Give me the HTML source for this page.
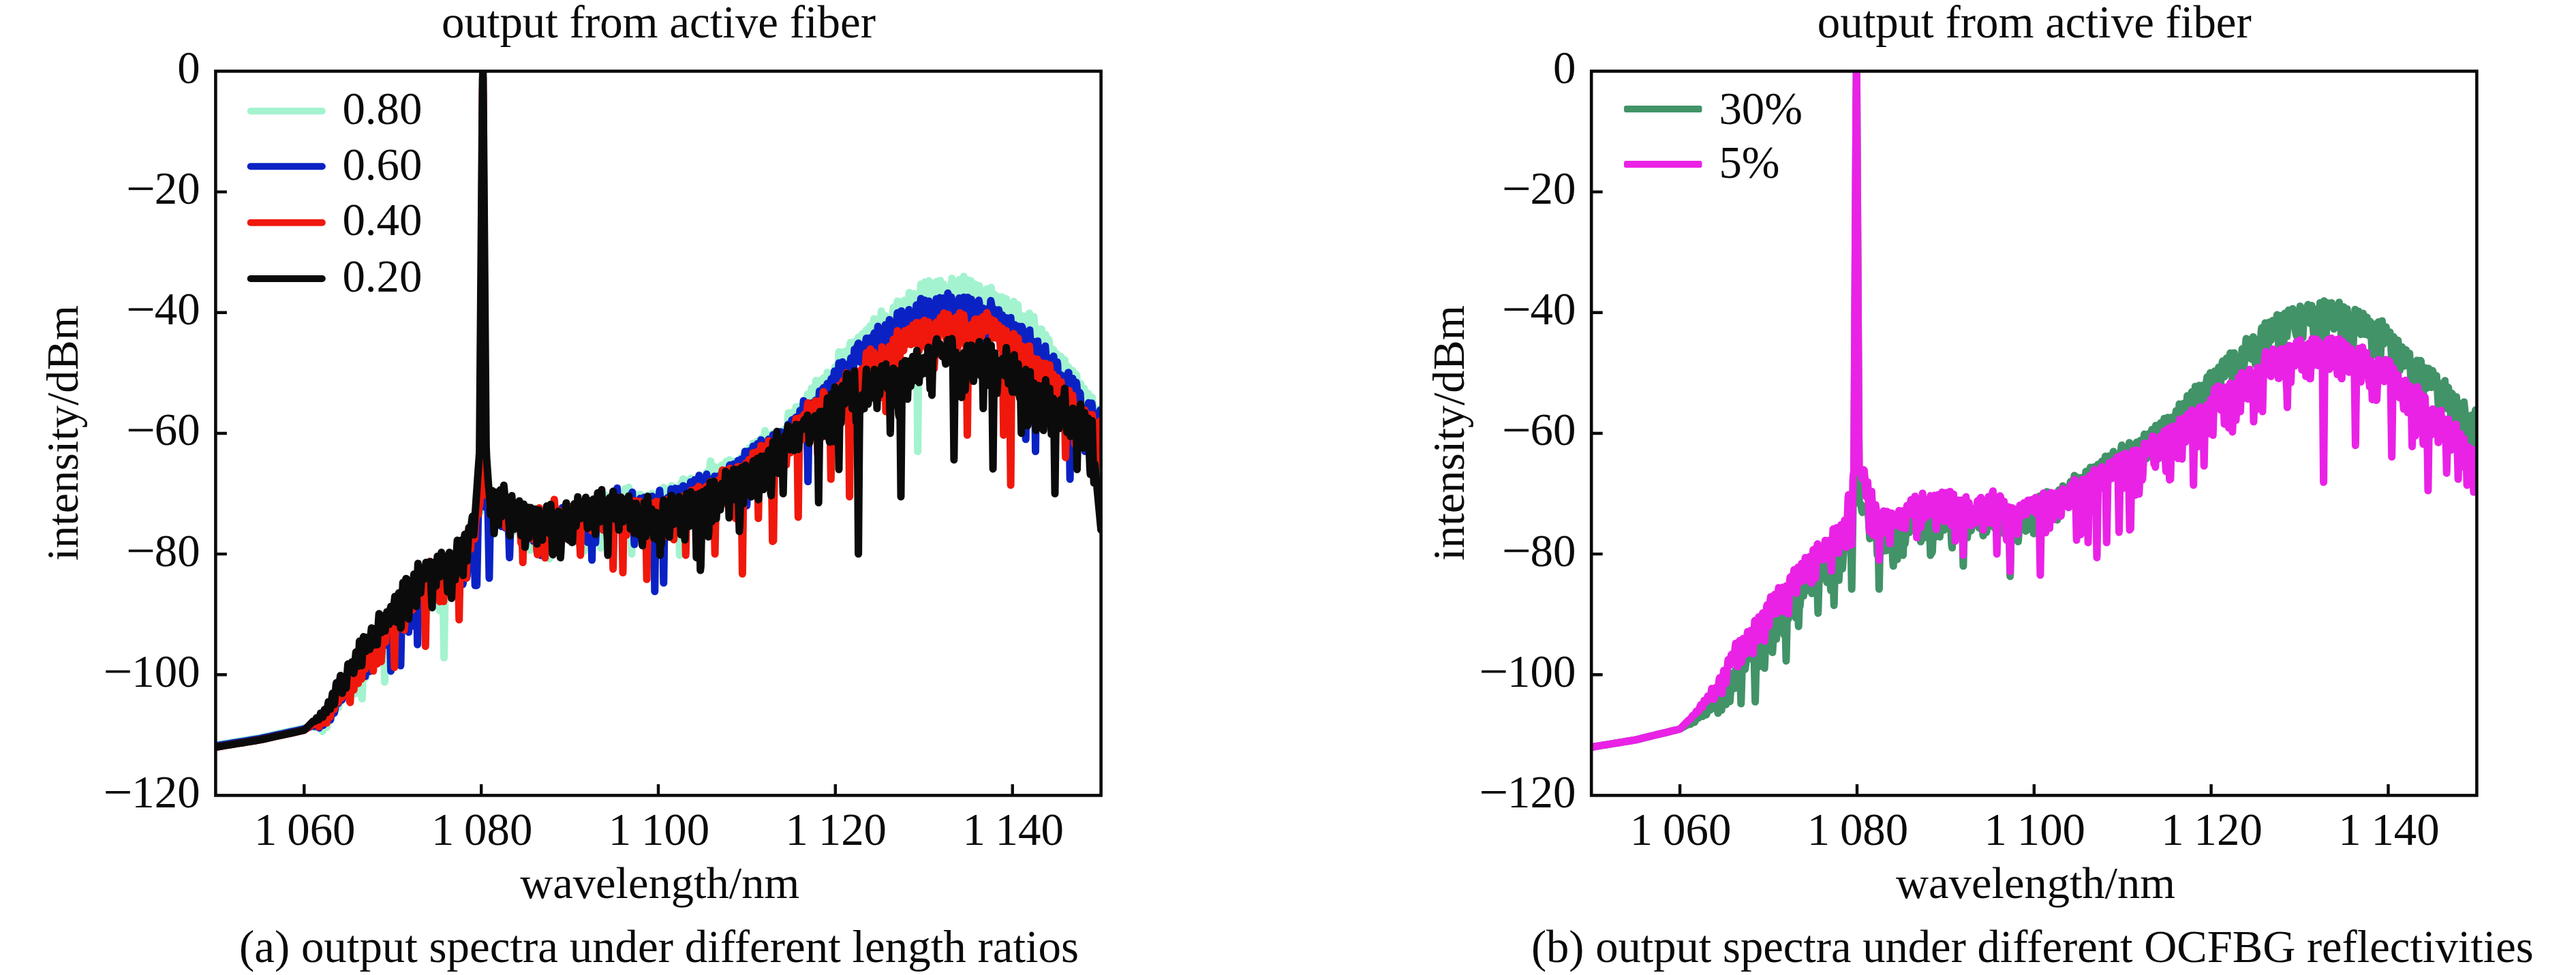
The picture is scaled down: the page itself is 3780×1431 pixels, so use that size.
<!DOCTYPE html>
<html><head><meta charset="utf-8"><title>spectra</title><style>html,body{margin:0;padding:0;background:#fff}svg{display:block}</style></head><body>
<svg width="3780" height="1431" viewBox="0 0 3780 1431" font-family="'Liberation Serif', serif" font-size="66.9" fill="#0a0a0a">
<rect width="3780" height="1431" fill="#fff"/>
<clipPath id="cL"><rect x="316.4" y="104.5" width="1299.2" height="1062.9"/></clipPath>
<g clip-path="url(#cL)" fill="none" stroke-width="11" stroke-linejoin="round" stroke-linecap="round">
<polyline stroke="#a3f3cf" points="316.4,1093.4 322.9,1092.4 329.4,1091.3 335.9,1090.3 342.4,1089.2 348.9,1088.1 355.4,1087.1 361.9,1086.0 368.4,1084.9 374.9,1083.9 381.4,1082.8 387.9,1081.4 394.4,1080.0 400.8,1078.6 407.3,1077.1 413.8,1075.7 420.3,1074.3 426.8,1072.9 433.3,1071.5 439.8,1070.1 446.3,1068.6 452.8,1067.1 458.7,1065.9 459.3,1066.0 461.9,1067.7 465.2,1064.0 465.8,1064.5 467.8,1066.6 468.4,1067.1 470.4,1062.7 471.0,1063.0 473.0,1073.4 473.6,1072.6 474.9,1066.9 475.6,1063.3 476.2,1060.6 479.4,1067.6 480.1,1065.3 482.0,1055.5 482.7,1053.5 485.3,1057.1 485.9,1055.4 487.9,1043.9 488.5,1043.6 490.5,1044.6 491.1,1044.8 491.8,1043.0 493.7,1036.8 494.4,1037.1 495.7,1038.5 496.3,1038.9 497.0,1036.9 497.6,1033.8 498.3,1030.6 499.6,1023.7 500.2,1023.5 500.9,1024.0 501.5,1024.9 502.2,1024.0 504.1,1016.5 504.8,1014.3 505.4,1013.7 506.1,1012.9 506.7,1011.9 507.4,1010.7 508.0,1008.6 508.7,1006.0 509.3,1003.8 510.6,999.9 513.9,1002.1 514.5,1000.4 516.5,990.4 517.1,991.8 517.8,999.4 518.4,1006.9 519.1,1014.2 519.7,1018.6 521.0,999.7 521.7,990.4 522.3,981.8 523.0,983.2 523.6,994.2 524.3,1005.6 524.9,1017.4 526.2,1005.6 526.9,999.6 527.5,993.2 528.2,986.3 528.8,989.4 529.5,1000.9 530.1,1012.1 530.8,1023.1 531.4,1025.6 532.7,988.5 533.4,973.6 534.0,978.4 534.7,983.6 536.0,994.8 536.6,994.6 537.3,986.2 537.9,978.0 538.6,969.9 539.2,963.5 540.5,968.2 541.2,970.1 541.8,971.6 542.5,969.2 543.8,962.9 545.1,956.9 545.7,954.9 547.7,959.7 548.3,957.7 549.0,954.9 550.9,947.3 551.6,950.4 553.5,973.5 554.2,970.7 555.5,952.5 556.1,945.7 556.8,950.7 557.4,955.5 558.1,960.0 558.7,964.1 559.4,966.7 561.3,941.5 561.9,933.4 562.6,928.0 563.2,950.9 564.5,1000.9 565.2,975.9 565.8,961.9 566.5,950.0 567.1,937.7 567.8,927.2 568.4,928.4 569.7,930.2 570.4,930.4 571.0,924.8 571.7,919.6 572.3,914.9 573.0,910.8 573.6,907.7 574.3,915.4 576.2,939.7 576.9,947.6 577.5,939.4 578.2,927.3 578.8,915.5 579.5,920.7 580.1,925.4 580.8,929.7 582.1,937.9 582.7,940.1 583.4,926.9 584.0,913.9 584.7,901.3 585.3,893.8 586.0,903.3 587.3,922.8 587.9,926.7 588.6,920.9 589.2,914.9 589.9,908.6 590.5,901.8 591.2,894.9 591.8,895.3 593.8,898.4 594.4,896.4 596.4,879.9 597.0,874.7 597.7,881.7 598.3,889.4 599.0,897.4 599.6,898.7 600.9,885.4 601.6,879.0 602.2,874.4 604.2,884.7 604.8,887.8 605.5,888.1 608.1,867.1 608.7,868.2 610.0,882.3 610.7,888.5 611.3,881.8 612.0,875.4 612.6,869.2 613.3,863.3 613.9,865.7 614.6,872.0 615.9,884.8 616.5,889.4 617.2,884.3 617.8,878.9 618.5,873.2 619.1,873.0 619.8,879.8 620.4,886.3 621.1,892.5 622.4,904.6 623.0,898.7 623.7,884.8 624.3,871.2 625.0,857.7 625.6,862.2 626.3,869.4 626.9,876.9 627.6,884.6 628.2,885.0 629.5,868.5 630.2,859.8 630.8,850.8 631.5,856.3 632.1,866.0 632.8,875.6 633.4,885.0 634.1,893.1 634.7,880.3 635.4,868.0 636.0,856.1 636.7,844.5 637.3,852.9 638.6,877.7 639.3,887.8 639.9,876.6 641.8,841.6 642.5,849.1 644.4,890.3 645.1,896.3 647.7,845.2 648.3,842.6 649.0,848.2 649.6,853.5 650.3,883.6 651.6,965.4 653.5,842.7 654.2,839.1 654.8,841.2 656.1,844.8 656.8,845.4 658.1,838.2 659.4,830.3 660.0,828.3 660.7,829.3 661.3,830.7 662.0,832.5 662.6,832.2 664.6,824.7 665.2,824.6 665.9,828.0 666.5,831.6 667.2,835.4 667.8,839.5 668.5,839.4 669.8,837.6 670.4,836.3 671.1,837.6 671.7,843.2 672.4,848.1 673.0,851.4 673.7,854.4 674.3,846.0 675.0,834.5 675.6,823.4 676.3,818.1 676.9,823.5 677.6,829.3 679.5,848.0 680.2,842.8 680.8,832.3 682.1,811.0 682.8,813.2 683.4,821.0 684.1,829.3 684.7,838.1 685.4,835.3 686.0,829.2 686.7,822.8 687.3,815.9 688.0,808.4 688.6,803.9 689.3,810.3 689.9,816.1 690.6,821.8 691.2,815.0 691.9,805.1 692.5,795.6 693.2,786.4 693.8,777.4 694.5,783.4 695.8,806.9 696.4,812.3 697.1,794.8 697.7,780.4 698.4,768.2 699.0,758.2 699.7,753.6 700.3,755.6 701.0,755.5 701.6,753.5 702.3,748.8 702.9,746.2 703.6,746.4 704.2,746.8 706.2,749.0 706.8,749.5 707.5,511.9 708.1,235.1 708.8,179.8 710.1,733.4 710.7,744.2 714.0,736.6 714.6,737.7 715.3,739.4 715.9,738.7 716.6,736.4 717.2,742.5 717.9,751.3 718.5,762.8 719.2,776.9 719.8,774.5 720.5,767.3 721.1,756.9 721.8,744.8 722.4,734.2 723.7,762.5 724.3,776.4 725.0,783.8 725.6,774.6 727.6,747.7 728.2,744.6 730.8,755.5 731.5,753.0 732.1,749.5 732.8,746.3 733.4,742.8 734.1,742.5 734.7,747.5 735.4,752.7 736.0,758.3 736.7,761.2 738.0,755.1 739.3,749.7 739.9,749.7 740.6,754.3 741.2,758.6 742.5,766.8 743.2,765.9 743.8,763.1 744.5,759.9 745.1,756.5 745.8,754.6 746.4,760.3 747.1,765.5 747.7,771.1 748.4,771.9 751.0,756.3 751.6,756.2 753.6,774.3 754.2,779.6 756.2,753.7 756.8,747.4 757.5,755.7 758.1,764.3 758.8,773.2 759.4,773.3 760.1,768.8 760.7,764.6 762.0,756.9 762.7,756.7 763.3,763.1 764.0,769.1 764.6,774.7 765.3,778.5 765.9,774.4 766.6,769.8 767.9,759.7 768.5,760.1 769.2,767.6 769.8,775.3 770.5,783.1 771.1,780.3 773.7,759.7 774.4,755.8 775.7,763.0 776.3,770.1 777.6,807.8 778.9,770.1 779.6,755.7 780.2,758.2 781.5,781.3 782.2,789.4 784.1,770.8 784.8,764.2 785.4,762.7 786.1,767.8 786.7,772.7 788.0,781.9 788.7,778.4 790.0,764.0 790.6,757.1 792.6,770.3 793.2,774.9 793.9,776.2 796.5,756.4 797.1,757.0 799.7,779.8 800.4,775.1 802.3,759.8 803.0,758.9 804.2,780.6 804.9,791.8 805.5,799.4 806.2,820.2 807.5,778.5 808.1,766.3 808.8,767.2 809.4,780.3 810.1,792.8 810.7,801.0 811.4,791.7 812.0,781.7 813.3,761.0 814.0,753.7 814.6,757.5 815.3,761.8 815.9,766.5 816.6,771.5 817.2,770.4 818.5,758.5 819.2,756.5 819.8,762.0 820.5,767.1 821.1,771.8 822.4,780.3 823.1,775.8 823.7,767.9 824.4,760.4 825.0,753.5 825.7,750.4 826.3,758.3 827.6,774.5 828.3,778.5 828.9,772.9 829.6,766.8 830.2,759.9 830.9,752.4 831.5,748.5 832.2,756.2 832.8,764.2 833.5,772.5 834.1,776.8 835.4,760.9 836.1,752.8 836.7,749.5 837.4,752.6 838.7,758.5 839.3,761.8 840.0,762.7 840.6,756.7 841.3,751.0 841.9,745.4 842.6,744.5 843.2,751.1 843.9,757.1 844.5,762.6 845.2,767.5 845.8,764.3 847.1,750.4 847.8,743.7 848.4,737.3 849.1,741.0 849.7,748.7 850.4,756.9 851.0,765.6 851.7,761.7 852.3,755.8 853.0,750.3 853.6,745.1 854.3,746.5 855.6,778.0 856.2,793.6 856.9,808.8 857.5,796.1 858.2,777.8 858.8,758.7 859.5,753.7 860.1,761.5 860.8,768.7 861.4,775.7 862.1,775.5 862.7,765.1 863.4,755.2 864.0,745.7 864.7,736.7 865.3,739.4 866.0,743.0 867.9,754.4 868.6,752.4 869.2,749.0 869.9,745.3 871.2,737.7 871.8,739.4 872.5,745.2 873.1,751.4 873.8,756.9 874.4,753.5 875.7,747.2 876.4,744.0 877.0,740.3 877.7,747.0 878.3,755.1 879.0,762.8 879.6,764.3 880.3,761.0 880.9,781.8 881.6,804.2 882.9,759.4 883.5,754.6 884.2,755.0 884.8,755.1 885.4,751.7 886.1,745.6 887.4,732.9 888.0,727.1 888.7,727.0 889.3,735.5 890.0,744.8 890.6,754.7 891.3,764.9 891.9,759.0 892.6,748.4 893.2,737.4 893.9,729.2 894.5,740.1 895.2,750.7 895.8,761.2 896.5,771.6 897.1,776.0 897.8,780.8 899.7,796.5 900.4,787.8 901.7,766.8 902.3,756.8 903.0,751.4 903.6,745.8 904.3,739.7 904.9,733.1 905.6,735.9 906.2,739.0 907.5,744.6 908.2,747.6 908.8,742.5 909.5,735.1 910.1,727.9 910.8,727.5 912.1,738.3 912.7,743.4 914.0,753.4 914.7,745.9 915.3,737.2 916.0,728.9 916.6,721.1 917.3,717.3 918.6,739.8 919.2,746.0 919.9,740.3 920.5,734.4 921.2,728.2 922.5,715.3 923.1,717.0 923.8,722.5 924.4,728.4 925.1,728.0 925.7,750.4 927.0,813.1 928.3,750.4 929.0,737.3 929.6,748.0 930.3,758.5 930.9,762.7 931.6,756.3 932.2,749.3 932.9,741.8 934.2,726.1 934.8,730.6 935.5,739.9 936.1,749.4 936.8,744.0 937.4,739.0 938.1,734.4 939.4,725.8 940.0,730.6 942.0,748.4 942.6,748.9 943.3,744.0 943.9,738.9 944.6,733.7 945.2,738.7 945.9,751.6 947.2,776.8 947.8,789.0 948.5,800.8 949.1,784.2 950.4,733.0 951.1,727.1 951.7,731.2 953.0,740.2 953.7,744.9 954.3,748.5 955.0,740.5 955.6,732.9 956.3,725.6 956.9,724.2 958.2,746.3 959.5,768.0 960.2,766.6 960.8,757.9 961.5,749.1 962.1,740.0 962.8,733.7 963.4,742.7 965.4,768.3 966.0,759.8 967.3,738.5 967.9,727.9 968.6,722.1 969.2,729.2 971.2,751.0 971.8,743.2 972.5,729.9 973.1,716.8 973.8,715.6 974.4,721.5 975.1,727.7 975.7,734.2 976.4,737.3 978.3,723.9 979.0,719.1 979.6,718.0 980.3,726.6 981.6,742.9 982.2,743.4 982.9,736.3 983.5,729.5 984.8,716.4 985.5,713.1 986.8,726.1 987.4,732.5 988.1,738.6 988.7,741.7 990.7,719.4 991.3,720.6 993.3,743.1 993.9,738.4 994.6,730.1 995.2,721.2 995.9,743.3 997.2,814.9 998.5,743.3 999.1,710.2 999.8,710.6 1000.4,708.3 1001.1,706.5 1002.4,703.0 1003.0,706.6 1003.7,714.1 1004.3,721.1 1005.0,727.8 1005.6,733.4 1006.3,725.7 1006.9,718.3 1007.6,711.5 1008.2,705.1 1008.9,709.3 1010.2,724.7 1010.8,732.1 1011.5,728.2 1012.1,722.1 1012.8,715.6 1014.1,701.9 1014.7,706.7 1015.4,715.8 1016.0,725.1 1016.7,734.6 1017.3,727.9 1019.3,704.7 1019.9,704.1 1020.6,721.8 1021.2,739.4 1021.9,754.8 1023.8,726.0 1024.5,716.1 1025.1,706.0 1025.8,707.8 1027.1,716.3 1027.7,719.3 1029.0,709.7 1029.7,705.1 1030.3,700.7 1031.0,702.7 1031.6,710.8 1032.3,719.3 1032.9,728.1 1033.6,737.3 1034.2,729.6 1034.9,720.9 1035.5,711.7 1036.2,702.1 1036.8,693.1 1037.5,700.3 1038.8,713.6 1039.4,711.9 1040.1,703.6 1040.7,695.9 1041.4,688.7 1042.0,682.2 1042.7,676.7 1043.3,683.6 1044.6,698.2 1045.3,703.2 1045.9,698.6 1047.2,688.9 1047.8,684.8 1049.1,692.2 1049.8,695.7 1050.4,698.9 1051.1,701.8 1051.7,701.5 1052.4,696.7 1053.7,686.5 1054.3,687.9 1055.0,695.6 1055.6,703.6 1056.3,711.9 1056.9,708.3 1057.6,699.7 1058.9,682.8 1059.5,685.9 1060.8,703.8 1061.5,712.5 1062.1,721.0 1062.8,718.4 1063.4,709.0 1064.1,699.1 1064.7,688.9 1065.4,678.3 1066.0,676.9 1066.7,679.1 1068.0,683.1 1068.6,680.8 1069.3,677.8 1069.9,675.9 1070.6,674.9 1071.2,680.5 1071.9,688.6 1073.2,705.2 1073.8,703.7 1074.5,697.3 1075.1,690.5 1075.8,683.4 1076.4,677.1 1077.1,682.6 1078.4,693.4 1079.0,699.0 1079.7,704.9 1080.3,700.6 1081.0,691.5 1081.6,682.1 1082.3,677.8 1082.9,681.6 1084.9,691.9 1085.5,695.5 1086.2,692.8 1086.8,685.2 1087.5,677.8 1088.1,670.6 1088.8,674.3 1089.4,685.3 1090.1,696.0 1090.7,706.3 1091.4,700.0 1092.0,688.4 1092.7,676.2 1093.3,663.8 1094.0,665.1 1094.6,671.1 1095.3,677.4 1095.9,684.1 1096.6,691.1 1097.2,685.4 1097.9,677.9 1098.5,670.9 1099.8,657.3 1100.5,662.0 1101.1,673.8 1101.8,685.2 1102.4,683.8 1103.1,675.8 1103.7,667.4 1104.4,658.6 1105.0,650.4 1105.7,659.1 1106.3,668.0 1107.0,677.3 1107.6,687.1 1108.3,679.7 1108.9,671.7 1109.6,664.0 1110.9,649.1 1111.5,647.5 1112.2,654.5 1114.1,674.3 1114.8,671.3 1116.7,643.5 1117.4,646.4 1118.7,655.0 1119.3,659.5 1120.0,653.7 1120.6,647.7 1121.3,642.1 1121.9,636.9 1122.6,632.2 1123.2,634.4 1123.9,647.2 1125.2,673.2 1125.8,673.5 1126.5,666.7 1127.1,659.4 1127.8,651.5 1128.4,642.8 1129.0,644.2 1130.3,660.7 1131.0,665.2 1131.6,656.6 1132.3,648.3 1132.9,640.4 1133.6,636.5 1134.9,654.8 1135.5,663.6 1136.2,672.1 1136.8,664.9 1138.8,640.4 1139.4,635.7 1140.1,643.3 1140.7,651.3 1142.0,667.8 1142.7,667.8 1144.0,651.5 1144.6,643.5 1145.3,635.7 1145.9,637.8 1147.9,670.5 1148.5,667.2 1149.2,656.3 1149.8,644.8 1150.5,632.8 1151.1,630.2 1151.8,633.7 1153.7,643.7 1154.4,645.8 1155.0,634.5 1155.7,623.3 1156.3,612.5 1157.0,605.9 1157.6,610.4 1159.6,625.0 1160.2,622.6 1162.8,605.5 1163.5,612.5 1164.1,619.1 1165.4,632.2 1166.1,623.4 1166.7,613.3 1167.4,603.5 1168.0,597.2 1171.3,614.3 1171.9,611.7 1172.6,605.2 1173.2,598.0 1173.9,596.2 1175.2,600.2 1175.8,602.4 1176.5,603.7 1177.1,600.3 1177.8,597.3 1178.4,594.4 1179.1,591.7 1179.7,589.3 1180.4,599.3 1181.7,621.1 1182.3,631.8 1183.0,625.3 1184.9,578.5 1185.6,581.7 1186.2,587.3 1187.5,597.7 1188.2,603.1 1188.8,597.6 1189.5,586.4 1190.1,575.7 1190.8,569.7 1192.7,581.7 1193.4,585.4 1194.0,586.8 1194.7,582.1 1195.3,576.7 1196.0,570.8 1197.3,558.4 1197.9,561.2 1198.6,564.5 1199.2,568.5 1199.9,573.3 1200.5,571.2 1201.2,566.7 1201.8,562.7 1202.5,558.8 1203.1,563.2 1203.8,569.0 1204.4,574.2 1205.1,578.6 1205.7,581.4 1206.4,575.2 1207.0,568.6 1207.7,561.7 1208.3,554.6 1209.0,566.0 1209.6,579.5 1210.2,593.5 1210.9,600.9 1211.5,589.7 1214.1,546.4 1214.8,553.7 1215.4,566.4 1216.7,591.3 1217.4,584.1 1218.7,560.1 1219.3,548.4 1220.0,548.0 1220.6,562.4 1221.9,592.0 1222.6,606.6 1223.2,606.5 1223.9,584.6 1224.5,562.2 1225.2,539.1 1225.8,541.6 1227.8,582.5 1228.4,575.5 1229.7,544.3 1230.4,529.1 1231.0,516.6 1231.7,519.7 1233.0,526.5 1233.6,530.2 1234.3,530.1 1234.9,526.2 1235.6,522.7 1236.2,519.6 1236.9,516.7 1237.5,523.5 1238.2,538.0 1238.8,552.1 1239.5,565.8 1240.1,573.0 1240.8,555.4 1242.1,519.8 1242.7,514.6 1244.0,522.5 1245.3,530.7 1246.0,521.8 1246.6,513.3 1247.3,505.1 1247.9,502.9 1249.9,523.8 1250.5,530.6 1251.2,537.1 1251.8,529.7 1253.8,504.5 1254.4,501.0 1255.1,511.3 1255.7,521.9 1256.4,533.0 1257.0,526.8 1257.7,519.3 1258.3,511.5 1259.0,503.3 1259.6,495.0 1260.3,501.4 1261.6,523.6 1262.2,530.2 1264.8,498.4 1265.5,490.2 1266.1,489.8 1267.4,499.2 1268.1,504.1 1268.7,504.8 1269.4,499.1 1270.0,493.8 1271.3,484.1 1272.0,490.8 1272.6,503.9 1273.3,516.6 1273.9,520.4 1274.6,509.8 1275.2,498.6 1275.9,487.1 1276.5,478.6 1279.1,502.2 1279.8,506.8 1280.4,494.7 1281.1,482.9 1281.7,471.6 1282.4,468.0 1283.0,470.3 1283.7,473.0 1285.0,478.9 1285.6,481.7 1286.3,478.6 1286.9,473.8 1287.6,468.7 1288.2,468.7 1288.9,473.5 1289.5,477.9 1290.2,482.0 1290.8,483.3 1291.4,476.0 1292.1,469.0 1292.7,462.5 1293.4,456.6 1294.0,462.5 1294.7,471.3 1295.3,480.4 1296.0,489.7 1296.6,499.2 1297.3,498.7 1298.6,472.4 1299.2,463.7 1301.8,500.7 1302.5,507.2 1303.1,497.2 1303.8,486.9 1304.4,476.3 1305.1,468.2 1305.7,475.4 1306.4,482.3 1308.3,502.1 1309.0,491.6 1310.3,456.2 1310.9,451.0 1311.6,454.7 1312.2,458.6 1312.9,462.8 1313.5,467.3 1314.2,462.4 1314.8,457.1 1316.8,442.1 1317.4,443.2 1319.4,463.3 1320.0,462.5 1321.3,449.5 1322.0,442.7 1322.6,448.3 1323.3,455.4 1323.9,462.3 1324.6,468.8 1325.2,474.9 1325.9,480.8 1326.5,468.1 1327.2,454.3 1327.8,440.7 1328.5,440.6 1329.1,448.7 1329.8,457.1 1330.4,465.6 1331.1,471.8 1332.4,453.6 1333.7,435.9 1334.3,429.6 1336.3,449.0 1336.9,453.0 1337.6,447.8 1339.5,432.8 1340.2,431.0 1340.8,440.9 1341.5,450.6 1342.1,459.9 1342.8,462.5 1344.1,442.0 1344.7,432.7 1346.7,662.5 1348.0,509.3 1348.6,451.1 1349.3,442.8 1351.2,417.1 1351.9,420.1 1352.5,430.8 1353.2,441.9 1353.8,449.7 1354.5,441.5 1355.1,433.7 1356.4,418.7 1357.1,413.9 1357.7,422.5 1358.4,430.8 1359.0,438.8 1359.7,446.5 1360.3,440.9 1362.3,417.0 1362.9,412.3 1363.6,416.7 1364.2,421.4 1364.9,426.5 1365.5,427.7 1367.5,415.7 1368.1,415.6 1369.4,436.3 1370.7,456.5 1371.4,464.2 1373.9,415.8 1374.6,413.1 1376.5,449.5 1377.2,446.3 1379.1,412.0 1379.8,411.9 1380.4,414.2 1382.4,422.6 1383.0,423.9 1385.0,417.0 1385.6,419.9 1388.2,469.7 1388.9,462.9 1390.2,430.8 1390.8,422.2 1391.5,430.7 1392.1,439.1 1392.8,447.2 1393.4,455.0 1394.1,462.6 1394.7,454.2 1395.4,438.9 1396.0,423.4 1396.7,408.5 1397.3,415.9 1398.0,423.8 1398.6,432.3 1399.3,441.2 1399.9,450.5 1400.6,443.8 1401.2,430.8 1401.9,418.1 1402.5,414.8 1403.2,423.4 1403.8,431.6 1404.5,439.5 1405.1,440.3 1405.8,432.9 1407.7,410.4 1408.4,412.2 1409.0,422.6 1411.0,452.8 1411.6,453.5 1412.3,440.8 1412.9,428.6 1413.6,416.8 1414.2,405.7 1414.9,413.0 1416.8,435.7 1417.5,437.0 1418.1,428.1 1418.8,418.8 1419.4,410.7 1420.1,416.9 1420.7,422.6 1422.0,433.5 1422.7,438.7 1423.3,429.3 1424.0,420.4 1424.6,411.9 1425.3,413.5 1425.9,423.5 1427.9,454.2 1428.5,447.1 1429.2,437.5 1429.8,427.4 1430.5,416.9 1431.1,420.4 1432.4,434.6 1433.1,442.0 1433.7,449.5 1434.4,451.3 1435.7,435.1 1437.0,419.4 1437.6,421.7 1438.3,433.8 1438.9,445.7 1439.6,457.5 1440.2,457.0 1441.5,440.9 1442.2,433.0 1442.8,427.8 1445.4,441.9 1446.1,442.7 1446.7,436.7 1447.4,430.6 1448.0,424.3 1448.7,427.0 1449.3,430.5 1450.0,433.9 1450.6,437.1 1451.3,439.2 1451.9,434.6 1452.6,430.2 1453.2,426.1 1453.8,422.2 1454.5,421.9 1455.1,431.4 1455.8,441.3 1456.4,451.3 1457.1,448.3 1458.4,440.8 1459.0,436.7 1459.7,432.4 1460.3,442.6 1461.0,460.7 1461.6,478.7 1462.3,486.2 1464.9,437.5 1465.5,435.7 1466.2,447.9 1466.8,460.5 1467.5,473.2 1468.1,477.8 1468.8,467.2 1470.7,436.1 1471.4,437.4 1473.3,472.2 1474.0,472.5 1474.6,462.3 1475.9,441.4 1476.6,438.6 1477.2,448.9 1477.9,459.5 1479.2,481.2 1479.8,485.9 1480.5,476.2 1481.1,466.2 1481.8,455.7 1482.4,444.7 1483.1,448.9 1485.0,461.0 1485.7,465.4 1486.3,457.6 1487.6,442.4 1488.3,446.8 1490.2,466.0 1490.9,472.7 1491.5,473.8 1492.2,464.6 1492.8,455.7 1493.5,447.2 1494.8,463.1 1495.4,470.9 1496.1,478.4 1496.7,485.5 1497.4,481.3 1498.7,467.7 1499.3,463.5 1501.9,478.9 1502.6,482.3 1503.2,482.9 1503.9,477.0 1504.5,470.8 1505.2,464.4 1505.8,463.6 1507.1,469.1 1507.8,472.2 1508.4,473.4 1509.1,468.7 1509.7,464.2 1510.4,459.8 1511.0,464.5 1514.3,523.2 1514.9,508.4 1516.2,472.8 1516.9,464.8 1517.5,470.6 1518.2,476.9 1519.5,490.2 1520.1,491.2 1521.4,487.4 1522.1,485.3 1522.7,483.1 1523.4,490.1 1524.0,498.8 1524.7,507.1 1525.3,514.9 1526.0,517.0 1527.3,494.1 1527.9,483.1 1528.6,483.6 1529.2,492.1 1529.9,500.9 1530.5,510.2 1531.2,509.8 1532.5,503.2 1533.1,499.6 1533.8,495.8 1534.4,491.5 1535.0,499.4 1536.3,523.6 1537.0,522.6 1537.6,514.2 1538.3,506.2 1538.9,498.4 1539.6,500.5 1540.2,509.1 1541.5,526.8 1542.2,535.5 1542.8,541.1 1543.5,534.7 1544.1,527.7 1545.4,512.8 1546.1,513.2 1546.7,528.8 1547.4,544.9 1548.0,553.1 1548.7,544.2 1549.3,535.8 1550.0,527.7 1550.6,519.3 1551.3,524.7 1551.9,529.2 1552.6,532.9 1553.2,535.9 1553.9,538.5 1554.5,537.2 1555.2,532.2 1555.8,527.7 1556.5,523.9 1557.1,523.4 1559.1,546.6 1559.7,549.2 1560.4,544.8 1561.0,539.5 1562.3,528.3 1563.0,537.9 1563.6,547.8 1564.9,568.1 1565.6,578.5 1566.2,569.8 1567.5,538.3 1568.2,544.6 1568.8,563.2 1570.8,618.1 1571.4,605.9 1572.7,572.1 1573.4,555.0 1574.0,543.7 1576.6,572.5 1577.3,578.0 1577.9,568.3 1578.6,558.8 1579.2,549.5 1579.9,550.8 1581.8,583.7 1582.5,586.1 1583.1,582.2 1583.8,577.8 1584.4,573.0 1585.7,563.1 1586.4,572.3 1588.3,602.2 1589.0,598.4 1590.3,577.0 1590.9,570.2 1591.6,575.1 1592.9,584.2 1594.2,592.7 1594.8,589.9 1595.5,585.5 1596.1,581.3 1596.8,577.4 1597.4,581.0 1598.1,589.6 1598.7,597.9 1599.4,606.0 1600.0,605.3 1600.7,599.5 1601.3,593.9 1602.0,588.5 1602.6,583.3 1603.3,590.3 1603.9,599.4 1604.6,608.8 1605.2,618.5 1605.9,619.7 1607.2,610.5 1607.8,605.4 1608.5,599.9 1609.1,604.4 1609.8,613.4 1610.4,621.9 1611.1,630.2 1611.7,638.1 1613.0,609.2 1613.7,602.1 1615.6,768.8"/>
<polyline stroke="#0a22c4" points="316.4,1094.8 322.9,1093.7 329.4,1092.6 335.9,1091.6 342.4,1090.5 348.9,1089.5 355.4,1088.4 361.9,1087.3 368.4,1086.3 374.9,1085.2 381.4,1084.1 387.9,1082.7 394.4,1081.3 400.8,1079.9 407.3,1078.5 413.8,1077.1 420.3,1075.6 426.8,1074.2 433.3,1072.8 439.8,1071.4 446.3,1070.0 452.8,1067.5 459.3,1065.1 460.0,1065.1 461.9,1066.1 462.6,1065.9 464.5,1063.7 465.2,1063.5 468.4,1068.3 469.7,1061.4 470.4,1059.0 473.6,1064.2 474.3,1064.4 474.9,1062.4 476.2,1056.8 476.9,1056.4 479.4,1060.6 480.1,1058.8 482.0,1051.7 482.7,1052.0 483.3,1054.2 484.0,1056.1 484.6,1056.7 487.9,1038.1 488.5,1039.9 489.8,1044.7 490.5,1046.6 491.8,1039.4 492.4,1035.3 493.1,1031.0 493.7,1030.5 496.3,1032.3 497.0,1030.0 498.9,1019.4 499.6,1016.2 500.9,1023.9 501.5,1027.5 502.2,1026.7 503.5,1016.9 504.1,1012.3 504.8,1008.2 505.4,1005.3 506.1,1009.4 507.4,1017.7 508.0,1020.7 508.7,1016.3 509.3,1011.7 510.0,1006.6 510.6,1001.0 511.3,996.0 511.9,996.6 512.6,997.5 513.2,998.7 513.9,1000.2 514.5,997.2 515.8,989.8 516.5,985.9 517.1,987.3 518.4,995.5 519.1,1000.0 519.7,1004.8 520.4,1000.7 521.0,994.4 521.7,988.5 522.3,983.0 523.0,984.9 523.6,986.5 524.3,987.5 524.9,986.8 525.6,984.1 527.5,975.3 528.2,973.0 528.8,977.3 529.5,981.9 530.8,991.7 531.4,994.1 532.1,986.5 532.7,978.6 533.4,970.4 534.0,969.9 534.7,977.1 535.3,984.6 536.0,992.6 536.6,987.0 537.3,981.8 539.2,967.1 539.9,966.5 540.5,973.5 541.2,979.7 541.8,985.1 542.5,985.4 543.1,976.1 544.4,957.1 545.1,948.0 545.7,948.6 546.4,954.0 547.0,960.2 547.7,967.1 548.3,968.5 549.6,959.8 550.3,955.1 550.9,950.0 551.6,951.1 552.2,956.1 553.5,965.3 556.1,940.6 556.8,941.2 557.4,949.4 558.1,957.4 558.7,965.0 559.4,963.1 560.0,955.2 561.9,930.4 562.6,922.6 563.2,927.5 563.9,932.9 564.5,938.8 565.2,945.2 565.8,946.8 566.5,938.3 567.1,930.2 568.4,914.7 569.1,921.8 569.7,928.6 570.4,934.9 571.0,940.5 571.7,933.6 572.3,935.3 573.6,984.9 574.9,935.3 575.6,920.3 576.2,924.5 576.9,929.0 577.5,921.4 578.8,903.7 579.5,903.9 580.1,908.5 580.8,912.6 581.4,916.5 582.1,920.1 582.7,918.1 584.0,901.6 584.7,893.7 585.3,894.0 586.0,898.3 586.6,918.3 587.9,977.0 589.2,918.3 589.9,901.7 590.5,896.0 591.2,890.5 591.8,897.1 593.1,917.4 593.8,921.2 594.4,914.9 595.1,908.0 595.7,900.3 596.4,892.0 597.0,888.1 597.7,899.5 599.0,921.8 599.6,927.8 600.3,912.1 600.9,896.8 601.6,882.3 602.2,871.5 602.9,885.3 604.2,913.2 604.8,918.9 606.8,885.2 607.4,873.8 608.1,875.6 608.7,884.0 609.4,892.2 610.0,900.2 610.7,906.2 611.3,894.2 612.0,917.4 612.6,946.0 613.9,888.9 614.6,869.2 615.2,873.9 615.9,878.9 616.5,884.3 617.2,880.7 617.8,872.9 618.5,864.9 619.1,856.6 619.8,860.3 622.4,884.2 623.0,881.8 625.0,854.8 625.6,847.7 627.6,874.5 628.2,882.9 630.2,851.1 630.8,844.0 632.1,852.6 632.8,857.1 633.4,861.8 634.1,865.9 634.7,859.0 636.7,839.3 637.3,842.1 638.6,856.9 639.3,864.0 639.9,864.7 640.6,856.5 641.8,840.0 642.5,840.8 644.4,868.1 645.1,873.9 645.7,862.4 646.4,851.3 647.0,840.4 647.7,831.9 650.9,856.8 652.9,842.0 653.5,836.8 654.2,833.5 654.8,837.4 655.5,840.6 656.1,843.2 656.8,845.3 657.4,840.3 658.1,833.4 658.7,826.9 659.4,824.5 660.0,836.1 660.7,848.3 661.3,861.1 662.0,874.6 662.6,867.5 663.3,854.3 663.9,840.6 664.6,826.5 665.2,824.6 667.2,848.1 667.8,848.4 668.5,844.0 671.1,827.5 671.7,836.9 672.4,847.4 673.0,856.8 673.7,866.0 674.3,871.2 676.3,820.5 676.9,820.7 678.9,857.7 679.5,856.1 681.5,825.3 682.1,815.4 682.8,817.0 684.7,848.0 685.4,844.7 686.0,833.3 686.7,821.4 687.3,809.0 688.0,796.3 688.6,793.8 690.6,791.8 691.2,789.0 693.2,775.3 693.8,771.5 695.1,783.5 695.8,795.0 697.1,859.2 698.4,795.0 699.0,826.0 699.7,859.2 701.6,759.8 702.3,749.6 702.9,747.3 704.2,744.0 704.9,742.8 705.5,742.0 706.2,667.0 708.1,168.7 708.8,135.5 710.7,633.7 711.4,744.2 712.0,743.9 712.7,743.2 713.3,741.9 714.0,740.1 714.6,739.6 715.3,739.2 715.9,738.7 717.9,848.5 719.2,775.3 719.8,750.8 720.5,746.2 721.1,740.1 721.8,733.1 722.4,726.6 723.0,731.6 723.7,740.2 724.3,749.1 725.0,750.6 725.6,747.5 726.3,744.2 726.9,740.5 727.6,738.1 728.2,744.3 728.9,750.0 730.2,761.0 730.8,757.3 731.5,751.4 732.1,745.8 732.8,741.4 733.4,739.7 734.1,747.7 736.0,772.8 736.7,771.6 737.3,767.4 738.0,762.8 738.6,757.8 739.3,752.3 739.9,755.8 741.2,768.3 741.9,774.9 742.5,772.6 744.5,758.6 745.1,755.4 745.8,762.5 746.4,777.4 747.7,818.4 749.0,777.4 749.7,769.5 750.3,764.0 751.0,759.1 753.6,766.9 754.2,767.3 754.9,761.7 755.5,756.6 756.2,751.8 756.8,748.8 757.5,754.6 758.1,760.2 758.8,765.3 759.4,769.8 760.1,769.4 762.0,749.3 762.7,751.8 763.3,758.9 764.0,766.5 764.6,774.6 765.3,779.7 765.9,773.3 766.6,766.7 767.2,759.8 767.9,752.6 768.5,758.7 769.2,765.6 769.8,771.9 770.5,778.1 771.1,779.9 771.8,772.6 772.4,765.5 773.1,758.7 773.7,752.5 774.4,758.9 775.0,765.7 775.7,772.8 776.3,778.3 777.0,775.2 777.6,771.8 778.3,768.2 778.9,764.3 779.6,760.0 780.2,763.1 780.9,771.2 782.8,794.3 783.5,784.8 784.1,775.1 784.8,765.9 785.4,763.7 786.1,773.9 786.7,784.4 788.0,805.9 788.7,810.7 789.3,801.1 790.0,790.9 790.6,780.1 791.3,768.5 791.9,777.6 793.2,811.4 793.9,815.1 794.5,798.8 795.2,782.8 795.8,767.0 796.5,759.8 797.8,779.0 798.4,788.3 799.1,794.0 802.3,756.9 803.0,761.2 803.6,766.0 804.2,771.1 804.9,776.5 805.5,782.1 806.2,776.1 807.5,761.3 808.1,764.6 810.7,794.0 811.4,792.3 812.0,783.3 812.7,774.1 813.3,764.7 814.0,757.6 816.6,777.1 817.2,777.6 817.9,768.9 818.5,760.4 819.2,752.2 819.8,749.2 821.8,761.0 824.4,746.5 825.0,745.1 826.3,753.3 827.0,757.2 827.6,760.9 828.3,764.4 828.9,760.7 830.2,746.9 830.9,740.3 831.5,745.0 832.2,752.9 833.5,769.2 834.1,774.5 835.4,755.8 836.1,747.7 837.4,760.8 838.0,767.2 839.3,779.3 840.0,777.8 841.9,753.1 842.6,754.0 843.2,760.1 843.9,765.7 845.2,776.3 845.8,777.7 846.5,768.7 847.1,760.1 847.8,751.8 848.4,753.4 850.4,791.7 851.0,799.2 851.7,785.1 852.3,770.8 853.0,756.1 853.6,747.6 854.9,757.0 855.6,762.1 856.2,767.7 856.9,764.3 857.5,758.0 858.2,752.1 858.8,746.6 859.5,750.1 860.1,763.6 860.8,776.7 861.4,789.1 862.1,795.8 862.7,784.9 863.4,773.6 864.0,762.0 864.7,750.1 865.3,745.2 866.0,750.8 866.6,756.9 867.3,764.1 868.6,822.0 869.9,764.1 870.5,746.2 871.2,737.5 871.8,752.5 873.1,786.0 873.8,796.6 874.4,784.4 875.1,771.7 875.7,758.6 877.0,732.1 877.7,738.1 879.0,756.3 879.6,753.5 880.3,748.9 880.9,744.5 881.6,740.4 882.2,736.7 882.9,733.8 884.8,746.7 885.4,748.3 886.7,746.2 887.4,744.8 888.0,743.9 889.3,755.0 890.0,760.3 890.6,765.3 891.3,765.3 893.9,736.5 894.5,735.6 895.8,755.6 896.5,760.4 897.1,753.1 899.1,732.2 899.7,727.0 900.4,734.9 901.0,742.5 902.3,757.3 903.0,758.5 903.6,746.6 904.3,735.0 904.9,724.0 905.6,716.5 906.2,729.3 906.9,742.6 907.5,756.3 908.2,758.7 909.5,747.9 910.1,742.1 910.8,735.8 911.4,734.4 912.1,739.5 912.7,744.3 913.4,748.7 914.0,752.3 914.7,747.5 915.3,743.0 916.6,734.8 917.3,732.9 919.2,759.3 919.9,762.2 920.5,754.7 921.2,746.8 921.8,738.6 922.5,730.1 923.1,732.9 925.1,758.0 925.7,760.7 926.4,746.9 927.0,733.4 927.7,722.6 928.3,736.8 929.0,751.6 929.6,767.0 930.3,782.9 930.9,799.1 931.6,791.7 932.2,779.3 932.9,766.5 933.5,753.0 934.2,739.6 934.8,747.7 935.5,755.2 936.8,769.6 937.4,767.0 938.7,737.0 939.4,731.6 940.0,736.5 940.7,741.6 942.0,752.6 942.6,756.8 943.3,749.6 943.9,742.7 944.6,736.2 945.2,730.0 945.9,737.1 947.2,756.3 947.8,765.2 948.5,759.6 949.1,753.6 949.8,747.3 950.4,740.6 951.1,733.7 951.7,733.2 953.0,749.0 953.7,751.2 954.3,746.3 955.0,741.6 956.9,728.5 957.6,737.1 958.2,749.3 958.9,761.3 959.5,776.8 960.8,868.0 962.1,776.8 962.8,734.5 963.4,744.7 964.1,755.3 964.7,766.1 965.4,757.5 966.0,746.5 966.6,735.9 967.3,725.6 967.9,719.7 968.6,727.2 969.2,734.4 969.9,741.5 970.5,748.3 971.2,751.7 971.8,743.6 972.5,770.5 973.8,855.6 975.1,770.5 975.7,753.9 976.4,761.4 977.0,755.1 977.7,748.3 978.3,740.9 979.0,733.0 979.6,730.5 981.6,747.0 982.2,747.3 983.5,732.3 984.8,717.8 985.5,719.4 986.1,725.1 986.8,731.0 987.4,737.1 988.1,734.2 990.7,716.8 991.3,722.3 993.9,769.2 994.6,757.7 995.9,727.2 996.5,717.3 998.5,741.8 999.1,747.6 999.8,739.4 1001.7,714.1 1002.4,713.0 1003.7,723.4 1004.3,728.9 1005.0,734.8 1005.6,735.0 1006.3,729.2 1006.9,724.0 1007.6,719.1 1008.2,714.5 1008.9,722.2 1009.5,730.6 1010.2,738.1 1010.8,744.5 1011.5,742.6 1012.1,731.2 1012.8,719.4 1013.4,707.4 1014.1,713.5 1014.7,720.2 1015.4,727.4 1016.0,735.4 1016.7,731.8 1017.3,724.5 1018.0,717.6 1019.3,704.2 1019.9,707.9 1020.6,713.4 1021.2,718.5 1021.9,723.4 1022.5,727.8 1023.2,727.8 1023.8,720.8 1024.5,713.3 1025.8,697.7 1026.4,706.1 1027.1,714.8 1027.7,724.2 1028.4,725.7 1029.0,718.4 1029.7,711.8 1030.3,705.4 1031.0,702.9 1031.6,711.6 1032.3,719.6 1032.9,727.1 1033.6,733.9 1034.2,740.3 1034.9,730.0 1035.5,716.6 1036.2,703.5 1036.8,696.1 1037.5,703.6 1038.1,711.6 1038.8,720.0 1039.4,728.9 1040.1,730.0 1040.7,723.6 1041.4,717.0 1042.7,703.4 1043.3,710.9 1044.0,718.2 1044.6,725.2 1045.3,732.1 1045.9,735.8 1047.8,706.7 1048.5,699.1 1049.1,717.7 1049.8,736.6 1050.4,755.7 1051.1,747.9 1051.7,738.0 1052.4,727.8 1053.0,716.9 1053.7,705.6 1054.3,698.7 1055.6,721.7 1056.3,733.6 1056.9,729.9 1057.6,720.2 1058.2,711.4 1058.9,703.2 1059.5,695.3 1060.2,690.3 1060.8,702.2 1061.5,713.8 1062.1,725.3 1062.8,732.3 1063.4,718.8 1064.1,704.9 1064.7,690.5 1065.4,691.5 1066.0,697.0 1067.3,707.5 1068.0,709.6 1068.6,702.3 1069.3,695.4 1069.9,688.9 1070.6,683.1 1071.2,682.4 1071.9,691.8 1072.5,701.4 1073.2,710.8 1073.8,719.7 1074.5,712.4 1075.1,702.1 1076.4,681.3 1077.1,686.7 1079.0,715.0 1079.7,724.7 1080.3,717.4 1082.3,685.8 1082.9,676.1 1083.6,683.1 1084.2,689.9 1084.9,696.3 1085.5,699.3 1086.2,691.2 1086.8,682.8 1087.5,674.1 1088.1,674.5 1088.8,678.6 1089.4,682.9 1090.1,687.7 1090.7,691.1 1091.4,683.3 1092.0,676.1 1093.3,662.5 1094.0,663.9 1095.9,742.2 1097.2,690.0 1097.9,671.1 1098.5,666.7 1099.2,662.1 1099.8,667.5 1100.5,673.1 1101.1,678.2 1102.4,687.5 1103.1,687.8 1104.4,665.4 1105.0,655.0 1105.7,657.5 1106.3,660.3 1107.0,663.6 1108.3,670.5 1108.9,671.2 1111.5,651.3 1112.2,662.3 1112.8,672.9 1113.5,683.2 1114.1,681.9 1116.1,654.5 1116.7,645.7 1117.4,650.8 1118.0,667.3 1118.7,684.2 1119.3,695.7 1120.6,678.5 1121.3,669.6 1121.9,660.1 1122.6,654.5 1124.5,683.4 1125.2,693.3 1125.8,690.0 1127.8,644.8 1128.4,649.5 1129.0,657.4 1130.3,672.5 1131.0,671.9 1131.6,664.2 1132.3,656.7 1132.9,649.5 1133.6,642.7 1134.2,638.3 1135.5,675.3 1136.2,692.3 1136.8,682.9 1139.4,644.0 1140.1,636.3 1142.0,664.0 1142.7,672.7 1145.3,633.8 1145.9,640.7 1146.6,650.9 1147.2,661.5 1147.9,672.6 1148.5,669.8 1149.2,657.6 1149.8,645.7 1150.5,634.7 1151.1,642.4 1151.8,649.9 1152.4,657.0 1153.1,663.5 1153.7,666.3 1154.4,655.8 1156.3,623.1 1157.0,623.3 1157.6,625.1 1158.3,627.0 1158.9,629.3 1159.6,631.8 1160.2,627.0 1160.9,623.0 1161.5,619.5 1162.2,616.3 1162.8,619.1 1163.5,623.6 1164.1,627.7 1164.8,631.4 1165.4,634.7 1166.1,632.4 1167.4,613.3 1168.0,612.3 1168.7,617.1 1169.3,622.2 1170.0,627.7 1170.6,633.6 1171.3,635.0 1171.9,627.5 1172.6,619.6 1173.2,610.9 1173.9,602.6 1176.5,630.4 1177.1,624.3 1177.8,611.8 1178.4,599.8 1179.1,588.2 1179.7,595.4 1180.4,604.7 1182.3,633.5 1183.0,627.1 1183.6,617.3 1184.3,633.9 1185.6,706.8 1186.9,633.9 1187.5,615.7 1188.2,622.3 1188.8,616.4 1190.8,595.2 1191.4,591.6 1192.1,598.8 1193.4,613.7 1194.0,620.9 1194.7,619.8 1195.3,609.5 1196.0,598.8 1196.6,587.6 1197.3,591.6 1197.9,600.1 1199.2,616.8 1199.9,612.1 1200.5,601.3 1201.2,591.5 1201.8,582.4 1202.5,573.9 1203.1,575.1 1204.4,595.9 1205.1,598.6 1205.7,591.9 1206.4,585.0 1207.7,570.5 1208.3,569.1 1209.6,585.2 1210.2,593.0 1210.9,595.1 1211.5,588.0 1212.2,580.5 1213.5,565.0 1214.1,562.8 1214.8,566.2 1215.4,570.0 1216.1,574.2 1216.7,576.6 1218.0,568.2 1218.7,563.7 1219.3,558.6 1220.0,555.6 1220.6,557.4 1221.9,560.4 1222.6,562.1 1223.9,550.1 1224.5,544.7 1225.2,545.7 1226.5,560.7 1227.1,567.9 1227.8,574.7 1228.4,581.2 1229.1,569.4 1231.0,532.8 1231.7,537.8 1232.3,543.5 1233.0,549.5 1233.6,555.7 1234.3,553.2 1234.9,545.7 1235.6,538.4 1236.2,531.3 1236.9,533.4 1238.8,551.2 1239.5,552.7 1240.8,544.5 1241.4,540.1 1242.1,535.3 1242.7,538.7 1244.7,561.9 1245.3,564.7 1247.3,539.7 1247.9,531.1 1248.6,525.5 1249.2,537.9 1249.9,550.1 1250.5,562.1 1251.2,568.9 1253.1,526.7 1253.8,512.8 1255.1,512.6 1256.4,513.2 1257.0,510.9 1257.7,508.8 1258.3,507.0 1259.0,505.3 1259.6,503.7 1260.3,504.2 1261.6,519.9 1262.2,527.5 1262.9,531.7 1263.5,530.8 1264.8,528.7 1265.5,528.7 1266.1,530.9 1267.4,536.4 1268.1,534.1 1269.4,517.4 1270.0,508.7 1270.7,499.8 1271.3,496.4 1272.0,504.0 1273.9,526.5 1274.6,528.9 1275.9,512.1 1277.2,495.8 1277.8,502.3 1278.5,513.2 1279.1,523.3 1280.4,509.7 1282.4,490.5 1283.0,488.8 1284.3,508.6 1285.0,518.2 1285.6,518.7 1286.3,508.5 1286.9,498.4 1287.6,488.6 1288.2,479.0 1288.9,489.4 1289.5,501.8 1290.2,514.1 1290.8,526.2 1291.4,538.1 1292.1,530.3 1293.4,503.0 1294.0,489.4 1294.7,486.0 1295.3,502.1 1296.0,518.4 1296.6,522.3 1297.9,500.1 1298.6,488.6 1299.2,476.7 1299.9,480.1 1300.5,489.2 1301.8,507.0 1302.5,507.8 1303.1,497.4 1303.8,487.6 1304.4,478.3 1305.1,469.3 1305.7,476.6 1307.0,498.3 1307.7,509.0 1308.3,514.2 1309.0,505.9 1310.9,480.4 1311.6,474.0 1312.2,485.5 1312.9,496.7 1313.5,507.6 1314.2,512.0 1314.8,497.1 1316.1,466.7 1316.8,459.2 1317.4,468.6 1318.1,478.2 1318.7,487.9 1319.4,497.8 1320.0,493.5 1320.7,482.2 1321.3,471.2 1322.0,460.5 1322.6,456.4 1323.3,468.0 1324.6,491.6 1325.2,503.2 1325.9,494.7 1326.5,484.7 1327.2,474.3 1327.8,463.5 1328.5,460.6 1329.8,477.9 1330.4,486.9 1331.1,496.4 1331.7,487.1 1332.4,472.5 1333.0,458.4 1333.7,454.5 1334.3,461.8 1335.0,468.8 1335.6,475.3 1336.3,481.3 1336.9,480.6 1337.6,475.5 1338.2,469.9 1338.9,464.0 1339.5,459.8 1340.2,466.4 1340.8,473.2 1341.5,480.4 1342.1,488.0 1342.8,490.5 1344.1,462.1 1344.7,447.8 1345.4,453.3 1346.0,462.5 1346.7,471.3 1347.3,479.9 1348.0,486.2 1349.3,465.6 1349.9,455.7 1350.6,446.7 1351.2,438.3 1351.9,443.2 1352.5,452.0 1353.2,460.9 1353.8,468.4 1354.5,463.7 1355.1,458.7 1355.8,453.2 1356.4,447.2 1357.1,440.8 1357.7,443.2 1359.0,455.5 1359.7,461.9 1360.3,457.4 1361.0,452.6 1362.3,443.6 1362.9,442.0 1364.2,465.9 1364.9,477.7 1365.5,487.3 1366.2,475.3 1366.8,463.0 1367.5,450.5 1368.1,449.8 1370.7,487.6 1371.4,493.8 1372.0,479.2 1372.6,464.3 1373.3,449.3 1373.9,438.7 1374.6,445.7 1375.9,459.3 1376.5,466.6 1377.2,464.7 1379.1,437.0 1379.8,438.2 1380.4,444.2 1381.1,450.4 1381.7,456.8 1382.4,456.8 1383.7,446.7 1384.3,442.0 1385.0,437.5 1385.6,444.5 1386.3,453.2 1386.9,461.6 1387.6,469.6 1388.2,470.1 1390.2,440.1 1390.8,430.3 1391.5,433.3 1392.1,436.8 1392.8,440.4 1393.4,444.2 1394.1,441.9 1396.0,435.9 1396.7,439.1 1398.6,484.3 1399.3,499.7 1399.9,490.2 1401.9,460.5 1402.5,450.2 1403.2,455.4 1403.8,466.9 1404.5,478.0 1405.1,481.9 1405.8,471.1 1406.4,460.0 1407.7,437.4 1408.4,438.0 1409.0,441.1 1409.7,444.5 1410.3,448.4 1411.0,452.6 1411.6,455.5 1412.3,450.2 1412.9,445.3 1414.2,436.2 1414.9,441.1 1415.5,454.7 1416.2,468.0 1416.8,481.0 1417.5,487.7 1418.1,475.2 1418.8,462.5 1420.1,436.6 1420.7,441.9 1421.4,449.8 1422.0,458.0 1422.7,457.0 1423.3,452.1 1424.0,447.6 1424.6,443.5 1425.3,439.5 1425.9,442.7 1427.2,459.5 1427.9,467.7 1428.5,468.2 1429.2,464.1 1429.8,459.6 1430.5,454.4 1431.1,448.6 1431.8,457.0 1432.4,465.7 1433.1,474.3 1433.7,481.7 1434.4,471.0 1435.0,460.6 1435.7,450.5 1436.3,440.8 1437.0,444.8 1437.6,460.3 1438.3,476.3 1438.9,492.6 1439.6,492.7 1440.2,483.0 1440.9,473.1 1441.5,462.8 1442.2,452.3 1442.8,461.2 1444.8,495.0 1445.4,499.8 1447.4,462.9 1448.0,453.4 1448.7,461.1 1449.3,468.2 1450.0,475.0 1450.6,481.6 1451.3,478.9 1451.9,469.0 1452.6,459.2 1453.2,449.9 1453.8,441.3 1454.5,444.6 1455.1,448.3 1455.8,452.6 1456.4,457.4 1457.1,462.5 1457.7,461.0 1459.0,456.6 1459.7,454.2 1460.3,462.4 1461.0,471.5 1461.6,480.0 1462.3,485.4 1464.9,460.6 1465.5,454.7 1466.2,457.7 1468.1,487.3 1468.8,486.2 1470.7,462.6 1471.4,464.8 1472.0,483.2 1472.7,501.9 1473.3,520.8 1474.0,519.1 1474.6,505.6 1475.9,478.2 1476.6,466.6 1478.5,490.8 1479.2,498.4 1479.8,505.9 1480.5,502.6 1481.1,491.7 1481.8,481.1 1482.4,470.7 1483.1,466.2 1485.0,494.3 1485.7,500.7 1487.0,490.8 1487.6,485.5 1488.3,479.9 1488.9,476.6 1490.2,488.0 1490.9,493.9 1491.5,500.0 1492.2,496.3 1492.8,490.5 1493.5,485.1 1494.1,480.1 1494.8,479.0 1495.4,480.9 1496.1,482.4 1496.7,483.1 1497.4,482.9 1498.0,482.1 1498.7,480.8 1499.3,479.2 1500.0,480.6 1500.6,483.2 1501.3,486.2 1501.9,489.7 1502.6,493.7 1503.2,493.2 1503.9,538.3 1505.2,644.8 1506.5,538.3 1507.1,521.1 1507.8,539.0 1508.4,533.3 1510.4,490.7 1511.0,484.5 1512.3,506.6 1513.0,517.9 1513.6,529.4 1514.3,538.8 1516.2,504.3 1516.9,501.3 1517.5,522.9 1518.2,556.2 1519.5,662.5 1520.8,556.2 1521.4,527.6 1522.1,511.0 1522.7,500.7 1524.0,525.8 1524.7,538.1 1525.3,549.6 1526.0,542.2 1526.6,534.6 1527.9,519.0 1528.6,511.6 1529.2,515.0 1530.5,537.0 1531.2,547.9 1531.8,551.6 1533.1,521.6 1533.8,508.1 1535.0,524.4 1535.7,533.0 1536.3,541.9 1537.0,539.4 1538.9,529.5 1539.6,526.0 1540.2,528.8 1540.9,549.9 1541.5,570.4 1542.2,582.2 1544.8,535.4 1545.4,524.2 1546.1,522.8 1546.7,534.1 1547.4,545.7 1548.0,551.8 1548.7,547.0 1549.3,542.6 1550.0,538.5 1550.6,534.8 1551.3,531.4 1551.9,535.4 1553.2,571.2 1553.9,588.1 1555.8,565.6 1556.5,557.6 1557.1,550.6 1557.8,562.8 1558.4,574.3 1559.1,585.5 1559.7,596.5 1560.4,587.6 1561.0,573.0 1561.7,558.1 1562.3,554.7 1563.0,564.5 1564.3,583.4 1564.9,593.0 1565.6,585.9 1566.2,572.4 1566.9,559.3 1567.5,546.8 1568.2,546.8 1570.1,703.3 1570.8,651.1 1571.4,603.4 1572.1,591.9 1572.7,580.0 1574.0,555.5 1574.7,559.6 1575.3,564.4 1576.6,574.5 1577.3,576.6 1579.2,561.1 1579.9,564.1 1580.5,571.3 1581.2,578.1 1581.8,584.6 1582.5,585.8 1583.1,582.2 1583.8,579.0 1584.4,576.2 1585.1,577.6 1587.0,615.3 1587.7,627.8 1588.3,640.0 1589.0,631.4 1589.6,619.3 1590.3,607.0 1590.9,609.8 1592.2,662.5 1592.9,636.2 1593.5,659.7 1594.2,648.7 1594.8,635.9 1596.8,598.4 1597.4,591.2 1599.4,600.0 1600.0,599.1 1600.7,596.2 1601.3,593.8 1602.0,591.7 1602.6,596.2 1603.3,606.5 1603.9,616.5 1604.6,626.3 1605.2,636.0 1605.9,645.6 1606.5,636.1 1607.2,622.6 1607.8,608.7 1608.5,607.3 1609.8,622.4 1610.4,629.7 1611.1,633.0 1613.7,608.2 1614.3,602.0 1615.0,604.8 1615.6,611.3"/>
<polyline stroke="#f0180c" points="316.4,1096.5 322.9,1095.5 329.4,1094.4 335.9,1093.4 342.4,1092.3 348.9,1091.2 355.4,1090.2 361.9,1089.1 368.4,1088.0 374.9,1087.0 381.4,1085.9 387.9,1084.5 394.4,1083.1 400.8,1081.7 407.3,1080.2 413.8,1078.8 420.3,1077.4 426.8,1076.0 433.3,1074.6 439.8,1073.2 446.3,1071.7 452.8,1067.5 459.3,1063.3 460.0,1063.1 462.6,1063.0 464.5,1060.0 465.2,1060.4 467.8,1066.6 468.4,1066.5 469.7,1060.2 470.4,1057.5 473.6,1061.7 474.3,1059.7 474.9,1057.0 475.6,1053.8 476.2,1052.1 479.4,1061.0 482.0,1045.9 482.7,1044.3 484.0,1050.3 484.6,1052.2 487.9,1035.1 488.5,1034.7 489.8,1039.1 490.5,1041.1 491.1,1037.5 491.8,1033.2 493.7,1019.2 494.4,1019.7 495.0,1022.9 495.7,1026.5 496.3,1030.5 497.0,1027.5 498.9,1012.9 500.2,1018.9 500.9,1021.7 501.5,1024.3 502.2,1021.7 502.8,1016.9 504.1,1006.8 504.8,1003.7 506.1,1006.2 506.7,1007.7 507.4,1009.4 508.0,1011.4 508.7,1007.2 510.6,990.1 511.3,1000.0 511.9,1010.1 512.6,1020.0 513.2,1029.6 513.9,1030.9 514.5,1016.7 515.2,1002.7 515.8,989.2 516.5,985.3 517.8,1001.7 518.4,1009.8 519.1,1012.6 519.7,1005.3 521.7,982.4 522.3,980.7 523.0,985.3 524.9,999.4 525.6,1003.0 527.5,963.4 528.2,967.2 528.8,976.1 529.5,985.4 530.1,994.9 530.8,996.4 532.7,972.5 533.4,964.3 534.0,957.9 536.0,982.0 536.6,978.8 538.6,953.3 539.2,946.8 539.9,953.9 541.8,976.1 542.5,974.7 543.1,968.7 545.1,951.5 545.7,949.1 546.4,962.8 547.0,976.2 547.7,984.8 548.3,974.2 549.0,963.2 550.3,940.5 550.9,948.2 552.2,963.0 552.9,970.6 553.5,974.3 554.2,962.4 554.8,951.0 555.5,940.0 556.1,929.4 556.8,929.1 558.1,953.3 558.7,965.2 559.4,971.0 560.0,960.6 560.6,949.9 561.3,939.0 561.9,927.5 562.6,915.7 563.2,921.4 563.9,927.8 564.5,934.5 565.2,941.9 565.8,942.4 566.5,929.0 567.1,916.0 567.8,911.2 569.1,917.3 569.7,920.1 570.4,922.7 571.0,925.0 571.7,919.1 573.0,903.9 573.6,901.8 575.6,910.9 576.2,913.8 576.9,913.8 577.5,922.8 578.8,979.6 580.1,922.8 580.8,906.8 581.4,914.1 582.1,916.0 582.7,905.7 583.4,896.3 584.0,887.4 584.7,878.7 585.3,875.2 586.6,899.2 587.3,910.9 587.9,922.3 588.6,912.9 589.9,890.5 590.5,879.6 591.2,869.0 591.8,885.8 592.5,905.3 593.1,924.8 593.8,916.9 594.4,907.1 595.1,896.8 595.7,886.2 596.4,875.3 597.0,867.5 597.7,871.2 598.3,875.2 599.0,879.6 599.6,884.5 600.3,881.7 600.9,877.0 602.2,868.3 602.9,871.9 603.5,880.5 604.2,888.4 604.8,895.6 605.5,893.3 606.1,880.4 606.8,867.0 607.4,854.2 608.1,854.2 608.7,854.4 609.4,854.9 610.0,855.9 610.7,856.1 611.3,853.3 612.0,851.4 612.6,850.1 613.3,849.3 613.9,849.0 614.6,853.6 615.2,857.5 615.9,860.6 616.5,862.7 617.8,853.8 618.5,849.6 619.1,845.7 619.8,846.9 620.4,855.5 621.1,864.5 621.7,873.9 622.4,878.1 623.0,883.2 624.3,948.6 625.6,883.2 626.3,852.9 626.9,857.2 627.6,861.3 628.2,864.1 628.9,853.4 629.5,843.1 630.2,833.2 630.8,823.9 631.5,826.3 632.1,829.4 632.8,832.7 633.4,836.3 634.1,837.6 634.7,835.0 636.7,827.9 637.3,829.9 639.3,846.9 639.9,850.9 640.6,846.6 641.2,842.0 642.5,832.3 643.1,845.3 643.8,858.0 645.1,882.9 645.7,871.9 647.0,842.4 647.7,833.1 648.3,843.5 649.0,854.2 649.6,865.0 650.3,876.1 650.9,882.7 653.5,832.6 654.2,836.3 656.1,867.1 656.8,870.9 657.4,858.9 658.1,847.3 658.7,836.1 659.4,825.2 660.0,835.0 660.7,846.3 661.3,857.3 662.0,867.9 662.6,857.0 663.3,842.3 663.9,827.3 664.6,813.3 665.9,822.9 666.5,828.1 667.2,833.7 667.8,839.8 668.5,836.9 669.8,823.3 670.4,816.4 671.1,809.2 671.7,811.8 672.4,842.8 673.7,909.6 675.6,809.3 676.3,805.2 676.9,812.4 677.6,819.4 678.2,825.9 678.9,831.8 679.5,824.5 680.2,813.6 681.5,791.5 682.1,784.5 682.8,804.3 684.1,848.5 685.4,804.3 686.0,792.0 686.7,785.8 687.3,779.1 688.0,780.9 688.6,787.7 689.9,801.1 690.6,806.0 691.2,795.3 691.9,784.9 692.5,774.7 693.2,764.6 693.8,763.0 695.8,790.7 696.4,791.0 697.1,778.1 697.7,768.2 698.4,760.2 699.0,754.1 699.7,751.8 700.3,755.3 701.0,756.3 701.6,754.6 702.3,750.0 702.9,744.9 703.6,741.9 704.2,738.8 704.9,689.1 708.1,135.5 708.8,113.4 712.0,667.0 712.7,726.6 714.0,723.3 714.6,723.6 715.3,724.5 715.9,724.0 716.6,722.5 717.2,725.9 717.9,730.7 718.5,737.0 719.2,744.6 719.8,753.7 720.5,753.7 721.1,747.9 721.8,739.9 722.4,731.7 723.0,730.6 723.7,740.6 724.3,750.9 725.0,761.5 725.6,754.0 726.3,744.8 726.9,736.0 727.6,727.5 728.2,734.4 729.5,750.8 730.2,758.9 730.8,765.7 731.5,760.1 732.8,747.8 733.4,741.4 734.1,744.2 735.4,757.7 736.0,764.7 736.7,764.7 739.3,746.8 739.9,742.5 741.2,760.8 741.9,769.8 742.5,774.1 743.8,760.5 744.5,754.1 745.1,747.9 745.8,751.7 746.4,759.7 748.4,781.6 749.0,771.9 749.7,761.7 750.3,751.2 751.0,755.8 751.6,761.0 752.3,765.9 753.6,775.2 754.2,770.6 754.9,765.6 755.5,761.0 756.2,757.0 756.8,753.7 757.5,758.2 758.1,762.9 759.4,772.6 760.1,770.7 760.7,768.7 761.4,766.4 762.7,761.1 763.3,773.5 764.0,785.4 764.6,796.7 765.3,797.8 765.9,787.3 766.6,801.9 767.2,825.5 768.5,778.2 769.2,765.6 769.8,775.2 771.1,794.9 771.8,792.6 772.4,783.0 773.1,773.0 773.7,762.5 774.4,760.1 775.0,768.6 776.3,785.0 777.0,779.6 777.6,771.7 778.3,764.3 778.9,757.2 779.6,750.4 780.2,757.6 782.2,791.5 782.8,787.9 783.5,777.2 784.8,755.3 785.4,752.7 788.0,809.8 788.7,814.0 791.3,745.5 791.9,755.2 792.6,767.8 793.9,793.3 794.5,786.0 795.8,758.8 796.5,749.7 797.1,766.0 797.8,781.9 798.4,797.5 799.1,812.8 799.7,818.8 800.4,805.0 801.0,790.9 801.7,776.5 802.3,761.9 803.0,753.4 803.6,754.2 804.2,755.2 804.9,754.9 805.5,752.6 806.2,750.7 806.8,749.0 807.5,747.2 808.1,751.2 808.8,756.7 809.4,761.5 810.1,765.9 810.7,769.7 811.4,761.6 812.0,750.2 812.7,739.2 813.3,733.1 814.0,741.6 814.6,751.2 815.3,761.3 815.9,771.8 816.6,770.5 817.2,765.5 817.9,760.3 818.5,754.8 819.2,749.0 819.8,751.9 821.8,765.7 822.4,770.0 823.1,767.3 823.7,762.3 824.4,757.0 825.0,751.3 825.7,756.4 826.3,766.2 827.0,776.1 827.6,786.6 828.3,790.9 828.9,778.0 830.2,752.9 830.9,741.0 831.5,748.2 832.2,755.3 832.8,761.9 833.5,768.3 834.1,770.8 835.4,752.4 836.1,743.6 836.7,749.8 837.4,759.1 838.7,778.3 839.3,781.0 840.0,775.2 840.6,769.1 842.6,750.3 843.2,759.7 844.5,786.5 845.2,786.9 847.8,750.1 848.4,759.3 849.1,770.2 849.7,781.4 850.4,793.0 851.0,801.6 851.7,814.9 853.0,766.6 853.6,742.8 854.3,747.5 854.9,752.0 855.6,756.2 856.2,759.1 859.5,739.5 860.1,739.2 861.4,762.4 862.1,770.5 864.0,753.4 864.7,748.0 865.3,742.8 866.0,746.5 866.6,755.1 867.3,764.3 867.9,773.7 868.6,779.3 869.2,771.6 869.9,763.5 870.5,755.1 871.2,750.1 871.8,756.2 872.5,761.4 873.1,765.9 873.8,770.1 874.4,768.8 875.1,754.9 875.7,741.4 876.4,733.2 877.0,736.6 877.7,740.7 878.3,745.4 879.0,750.5 879.6,755.8 880.3,756.5 880.9,751.3 881.6,745.9 882.2,740.1 882.9,744.4 884.8,778.0 885.4,768.3 886.1,758.2 887.4,737.6 888.0,739.7 891.3,785.7 891.9,772.7 893.2,738.2 893.9,736.4 895.8,750.5 896.5,751.4 897.8,745.3 898.4,770.8 899.7,835.2 901.0,770.8 901.7,751.8 902.3,756.6 903.0,751.0 903.6,742.4 904.3,734.3 904.9,731.9 906.2,747.6 906.9,755.1 907.5,762.0 908.2,767.9 908.8,765.8 909.5,754.1 910.8,729.4 911.4,731.8 912.1,745.4 912.7,764.4 914.0,840.6 915.3,764.4 916.0,737.1 916.6,742.5 917.3,753.6 917.9,764.3 919.2,785.2 919.9,779.6 921.8,742.4 922.5,734.8 923.1,742.9 923.8,750.7 924.4,758.3 925.1,765.5 925.7,764.0 928.3,734.9 929.0,740.8 930.9,769.5 931.6,770.9 932.2,759.2 933.5,735.2 934.2,736.7 934.8,746.1 935.5,755.9 936.1,765.9 936.8,776.1 937.4,767.2 939.4,736.0 940.0,739.4 940.7,747.8 941.3,755.8 942.0,763.5 942.6,758.6 943.9,744.8 944.6,738.2 945.2,738.1 945.9,749.3 946.5,760.8 947.8,784.2 948.5,814.9 949.1,850.3 950.4,779.5 951.1,744.5 951.7,752.6 952.4,763.5 953.0,774.0 953.7,784.2 954.3,788.2 955.0,771.3 955.6,754.7 956.3,738.2 956.9,738.6 958.9,763.0 959.5,770.2 962.1,740.4 962.8,736.0 964.7,752.8 965.4,758.7 966.0,756.2 967.3,736.8 967.9,737.8 970.5,771.1 971.2,769.9 973.1,748.6 973.8,746.9 974.4,755.6 975.1,763.9 975.7,771.9 976.4,779.5 977.0,786.9 977.7,772.0 979.0,738.2 979.6,732.9 980.3,734.2 980.9,735.9 981.6,738.2 982.2,741.2 982.9,740.9 983.5,738.7 984.2,736.9 985.5,733.4 986.1,743.3 986.8,759.7 987.4,775.5 988.1,791.0 988.7,792.1 989.4,774.9 990.7,739.8 991.3,732.9 992.6,749.3 993.3,757.7 994.6,747.4 995.9,737.7 996.5,732.5 997.2,733.4 997.8,737.1 998.5,740.6 999.1,743.9 1000.4,736.4 1001.1,733.2 1001.7,730.5 1002.4,727.9 1003.0,731.4 1003.7,736.8 1004.3,741.9 1005.0,755.5 1006.3,814.9 1008.2,725.8 1008.9,730.2 1009.5,736.1 1010.2,742.3 1010.8,745.5 1011.5,741.0 1012.1,736.4 1012.8,731.3 1013.4,725.8 1014.1,720.0 1014.7,723.0 1015.4,730.7 1016.0,738.6 1016.7,746.7 1017.3,748.2 1019.3,725.3 1019.9,718.4 1021.9,742.7 1022.5,746.5 1024.5,721.3 1025.1,713.9 1025.8,719.6 1027.1,731.4 1027.7,737.5 1028.4,741.8 1031.0,721.5 1031.6,721.2 1032.3,737.5 1032.9,753.7 1033.6,765.0 1034.2,752.6 1034.9,740.0 1035.5,727.1 1036.2,714.0 1036.8,714.4 1037.5,722.9 1038.1,731.8 1038.8,741.1 1039.4,745.8 1040.1,734.7 1041.4,713.2 1042.0,706.9 1042.7,712.5 1043.3,717.9 1044.0,723.1 1044.6,728.1 1045.3,725.3 1046.6,713.7 1047.2,708.2 1047.8,741.2 1049.1,813.1 1050.4,741.2 1051.1,736.3 1053.7,706.7 1054.3,704.7 1055.0,710.8 1055.6,716.3 1056.3,721.1 1056.9,721.6 1057.6,714.9 1058.9,700.4 1059.5,693.3 1060.2,689.9 1060.8,697.6 1061.5,705.9 1062.1,714.7 1062.8,710.1 1063.4,703.1 1064.1,696.6 1064.7,690.5 1065.4,694.2 1066.0,707.1 1066.7,719.4 1067.3,731.0 1068.0,742.0 1068.6,740.0 1069.3,723.6 1069.9,707.4 1070.6,691.7 1071.2,687.5 1071.9,696.0 1072.5,705.2 1073.2,715.0 1073.8,716.5 1074.5,714.1 1075.1,711.5 1075.8,708.2 1076.4,703.9 1077.1,708.2 1077.7,722.6 1079.0,750.7 1079.7,761.2 1081.0,713.0 1081.6,689.3 1082.3,684.9 1084.9,712.3 1085.5,706.1 1086.8,687.7 1087.5,685.0 1089.4,842.3 1090.7,737.4 1091.4,703.1 1092.0,698.1 1092.7,692.6 1093.3,686.8 1094.0,680.6 1094.6,679.7 1095.9,694.4 1096.6,701.9 1097.2,701.0 1099.2,674.4 1099.8,676.9 1100.5,680.4 1101.1,683.6 1102.4,689.4 1103.1,684.8 1103.7,677.8 1104.4,671.0 1105.0,664.4 1105.7,666.3 1106.3,669.8 1107.0,673.6 1107.6,677.6 1108.3,676.3 1108.9,673.3 1109.6,670.1 1110.2,666.8 1110.9,663.1 1111.5,694.0 1112.8,760.8 1114.1,694.0 1114.8,669.9 1115.4,664.1 1116.1,658.8 1116.7,653.9 1117.4,665.3 1118.7,691.3 1119.3,695.3 1120.0,685.9 1120.6,676.0 1121.9,655.4 1122.6,659.8 1125.2,676.2 1125.8,678.3 1126.5,666.4 1127.1,655.0 1127.8,647.1 1128.4,650.2 1129.7,657.2 1130.3,660.5 1131.0,660.5 1131.6,657.3 1132.3,701.2 1133.6,794.5 1134.2,747.8 1134.9,793.6 1136.2,699.1 1136.8,679.0 1137.5,668.5 1138.1,658.5 1138.8,649.0 1139.4,640.0 1140.1,644.3 1140.7,655.2 1141.4,666.6 1142.0,678.3 1142.7,675.8 1144.0,658.1 1144.6,649.0 1145.3,650.5 1145.9,659.1 1146.6,667.3 1147.2,675.4 1147.9,681.2 1151.1,641.1 1151.8,651.0 1153.1,676.9 1153.7,682.1 1157.0,632.4 1157.6,641.1 1158.9,659.7 1159.6,664.6 1160.2,657.4 1160.9,650.0 1161.5,642.2 1162.2,634.2 1162.8,636.0 1164.8,653.2 1165.4,645.6 1167.4,621.0 1168.0,614.5 1169.3,623.4 1170.0,661.9 1171.3,759.1 1173.2,613.3 1173.9,613.9 1175.2,630.4 1175.8,638.3 1176.5,645.3 1177.1,642.6 1177.8,633.4 1178.4,623.8 1179.1,614.1 1179.7,608.5 1182.3,615.6 1183.0,614.3 1183.6,607.7 1184.3,601.3 1184.9,595.2 1185.6,591.3 1186.2,596.8 1186.9,602.4 1187.5,608.3 1188.2,614.5 1188.8,611.1 1189.5,607.2 1190.1,603.1 1190.8,598.5 1191.4,593.5 1192.1,604.2 1193.4,628.1 1194.0,627.2 1196.6,588.7 1197.3,594.2 1197.9,611.9 1199.9,666.5 1200.5,648.5 1201.2,628.7 1201.8,608.7 1202.5,588.5 1203.1,599.7 1204.4,623.3 1205.1,635.4 1205.7,641.9 1206.4,624.0 1207.0,606.6 1207.7,589.6 1208.3,574.9 1209.0,583.3 1209.6,591.4 1210.2,599.3 1210.9,607.0 1211.5,604.5 1212.2,597.8 1212.8,590.9 1213.5,583.8 1214.1,581.1 1216.1,596.1 1216.7,600.8 1217.4,602.6 1218.0,613.7 1219.3,703.3 1220.6,613.7 1221.3,590.5 1221.9,599.2 1222.6,607.9 1223.2,604.2 1225.2,569.8 1225.8,576.0 1227.1,596.3 1227.8,606.1 1230.4,571.0 1231.0,566.0 1234.3,603.1 1234.9,591.8 1236.2,565.6 1236.9,558.9 1237.5,562.3 1238.2,565.4 1238.8,568.1 1239.5,569.5 1240.1,564.2 1240.8,558.8 1242.1,547.2 1242.7,549.3 1243.4,554.8 1244.0,560.7 1244.7,567.3 1245.3,610.3 1246.6,729.0 1248.6,551.0 1249.2,556.7 1249.9,571.6 1250.5,586.1 1251.2,599.3 1251.8,581.8 1252.5,564.1 1253.1,546.2 1253.8,546.8 1256.4,586.2 1257.0,579.3 1259.6,544.9 1260.3,558.0 1261.6,586.7 1262.2,589.2 1262.9,577.3 1264.8,541.3 1265.5,547.9 1266.1,555.0 1266.8,561.8 1267.4,568.1 1268.1,573.9 1268.7,574.8 1270.0,542.4 1270.7,526.5 1271.3,517.8 1272.0,522.3 1272.6,527.3 1273.3,532.5 1273.9,537.9 1274.6,535.8 1275.2,529.1 1276.5,515.8 1277.2,512.3 1277.8,524.6 1278.5,537.1 1279.1,549.9 1279.8,553.3 1281.7,521.9 1282.4,517.3 1283.0,532.1 1283.7,546.3 1285.6,588.0 1286.3,575.6 1287.6,539.4 1288.2,523.2 1290.2,562.9 1290.8,576.0 1291.4,583.5 1292.1,565.2 1294.0,509.2 1294.7,512.6 1296.6,529.4 1297.3,527.5 1297.9,519.5 1298.6,533.8 1299.9,604.1 1301.2,533.8 1301.8,523.4 1302.5,530.8 1303.1,536.1 1303.8,524.3 1304.4,512.8 1305.1,508.2 1307.7,544.5 1308.3,547.0 1309.0,535.7 1309.6,523.6 1310.3,511.0 1310.9,498.1 1311.6,498.9 1312.2,514.0 1312.9,529.1 1313.5,543.8 1314.2,531.1 1314.8,518.8 1315.5,507.0 1316.1,495.6 1316.8,485.4 1318.1,511.7 1318.7,524.5 1319.4,536.9 1320.0,534.1 1322.6,491.3 1323.9,502.7 1325.2,513.8 1325.9,514.7 1327.2,495.0 1327.8,485.4 1328.5,487.1 1329.1,491.0 1329.8,495.2 1330.4,499.8 1331.1,504.6 1331.7,505.1 1332.4,496.5 1333.0,487.7 1333.7,482.7 1334.3,487.5 1336.3,501.0 1336.9,505.8 1337.6,504.4 1338.2,494.8 1338.9,485.9 1339.5,477.2 1340.2,481.0 1340.8,489.1 1341.5,496.6 1342.1,503.6 1342.8,500.2 1343.4,491.5 1344.7,473.5 1345.4,477.7 1346.0,485.3 1346.7,493.4 1347.3,502.2 1348.0,511.7 1348.6,514.5 1349.3,500.7 1349.9,486.7 1350.6,473.7 1351.2,479.7 1351.9,485.1 1353.8,500.0 1354.5,498.1 1355.1,488.5 1355.8,479.3 1356.4,470.3 1357.1,474.3 1357.7,483.8 1358.4,493.2 1359.0,502.2 1359.7,511.1 1360.3,505.6 1361.6,483.3 1362.3,472.5 1362.9,474.8 1363.6,487.2 1364.2,500.0 1364.9,513.1 1365.5,526.4 1366.2,518.6 1366.8,503.5 1367.5,488.1 1368.1,476.9 1368.8,493.7 1369.4,510.1 1370.1,525.8 1370.7,541.0 1371.4,528.9 1372.0,511.3 1372.6,493.8 1373.3,476.6 1373.9,473.0 1374.6,478.6 1375.2,484.6 1376.5,497.3 1377.2,490.8 1379.1,472.7 1379.8,466.3 1380.4,465.6 1381.1,472.1 1381.7,478.2 1382.4,483.7 1383.0,487.8 1383.7,478.6 1385.0,459.5 1385.6,461.2 1386.3,469.0 1386.9,477.5 1387.6,486.7 1388.2,496.4 1388.9,498.4 1390.8,470.8 1391.5,461.4 1392.1,467.1 1394.1,485.1 1394.7,482.4 1396.0,475.5 1396.7,471.6 1397.3,477.7 1398.0,489.8 1398.6,501.0 1399.3,511.7 1399.9,519.2 1400.6,501.1 1401.2,483.4 1401.9,466.6 1402.5,465.6 1403.2,476.7 1403.8,488.1 1405.1,511.4 1405.8,507.5 1406.4,493.6 1407.1,479.1 1407.7,464.2 1408.4,459.2 1409.0,469.6 1409.7,480.4 1410.3,491.6 1411.0,492.3 1411.6,485.9 1412.3,479.7 1412.9,473.7 1413.6,467.9 1414.2,462.3 1414.9,469.4 1415.5,483.2 1416.2,496.9 1416.8,506.8 1417.5,498.5 1418.1,531.4 1419.4,638.6 1420.7,531.4 1421.4,501.1 1422.0,509.4 1422.7,510.3 1423.3,502.6 1424.0,494.5 1424.6,485.8 1425.3,476.3 1425.9,480.6 1426.6,486.2 1427.9,496.9 1428.5,490.0 1429.2,482.4 1429.8,475.4 1430.5,468.9 1431.1,468.4 1433.7,510.8 1434.4,506.3 1436.3,468.3 1437.0,469.4 1438.3,478.1 1438.9,482.9 1439.6,488.0 1440.2,493.5 1440.9,483.4 1441.5,472.9 1442.2,465.0 1442.8,470.5 1443.5,475.6 1444.1,480.5 1444.8,485.0 1445.4,486.5 1446.7,471.2 1447.4,463.9 1448.0,459.0 1448.7,460.9 1449.3,463.3 1450.0,466.0 1451.3,472.1 1451.9,473.8 1453.2,471.2 1453.8,469.6 1454.5,468.7 1455.8,487.0 1456.4,495.9 1457.1,493.8 1457.7,486.3 1459.0,470.7 1459.7,472.2 1461.0,484.6 1461.6,491.1 1462.3,496.3 1462.9,491.3 1464.9,477.1 1465.5,480.0 1466.8,496.3 1467.5,504.1 1468.1,511.5 1468.8,506.6 1470.1,483.2 1470.7,481.8 1472.7,638.6 1474.0,534.1 1474.6,504.4 1475.3,498.4 1475.9,492.1 1476.6,485.4 1477.2,490.6 1477.9,495.1 1478.5,499.0 1479.2,502.4 1479.8,505.4 1480.5,500.4 1481.1,494.3 1481.8,566.1 1483.1,712.1 1484.4,566.1 1485.0,511.4 1485.7,506.7 1487.0,495.5 1487.6,489.6 1488.3,492.4 1488.9,499.1 1489.6,505.4 1490.9,517.6 1491.5,515.0 1492.2,508.2 1492.8,501.8 1493.5,495.9 1494.1,496.6 1495.4,523.5 1496.1,537.3 1496.7,536.6 1497.4,528.8 1498.0,520.6 1498.7,511.9 1499.3,508.3 1500.0,523.6 1500.6,538.2 1501.3,552.4 1501.9,566.4 1502.6,559.8 1503.2,548.7 1503.9,537.8 1504.5,527.2 1505.2,517.0 1505.8,509.4 1506.5,517.0 1507.8,533.1 1508.4,527.8 1509.1,520.9 1509.7,514.3 1510.4,507.8 1511.0,513.2 1513.6,562.8 1514.3,574.8 1514.9,567.3 1515.6,547.7 1516.2,527.9 1516.9,526.1 1520.1,552.3 1520.8,544.5 1521.4,536.1 1522.1,527.2 1522.7,532.7 1524.0,546.8 1524.7,554.0 1525.3,561.7 1526.0,566.5 1526.6,558.0 1528.6,532.9 1529.2,540.1 1530.5,562.4 1531.2,573.3 1531.8,571.1 1533.8,541.3 1534.4,533.4 1536.3,553.4 1537.0,552.9 1539.6,538.8 1540.2,535.6 1540.9,543.8 1542.2,559.9 1542.8,568.2 1543.5,566.9 1545.4,549.3 1546.1,551.5 1546.7,561.4 1547.4,571.0 1548.0,578.2 1549.3,568.3 1550.0,563.6 1551.3,554.5 1551.9,564.3 1552.6,576.5 1553.2,588.3 1553.9,599.5 1554.5,604.5 1555.2,593.1 1556.5,570.0 1557.1,560.4 1557.8,577.0 1558.4,594.4 1559.1,612.8 1559.7,619.1 1560.4,606.9 1561.7,583.1 1562.3,608.0 1563.6,671.4 1564.3,639.7 1564.9,623.4 1565.6,615.8 1567.5,589.8 1568.2,581.3 1568.8,573.2 1569.5,589.2 1570.1,605.4 1570.8,615.6 1571.4,607.9 1572.1,600.7 1572.7,593.7 1574.0,580.3 1574.7,589.9 1575.3,605.8 1576.0,621.4 1577.3,652.1 1577.9,640.3 1578.6,627.4 1579.2,614.2 1579.9,600.7 1580.5,596.0 1582.5,639.3 1583.1,631.6 1585.1,602.9 1585.7,593.6 1586.4,602.1 1587.0,611.0 1588.3,629.6 1589.0,636.2 1590.9,605.0 1591.6,601.9 1592.2,618.9 1592.9,636.2 1593.5,653.7 1594.2,645.4 1596.1,617.7 1596.8,608.1 1597.4,614.7 1598.1,622.2 1598.7,629.3 1599.4,636.2 1600.0,634.1 1601.3,619.5 1602.0,612.4 1602.6,608.6 1604.6,628.2 1605.2,630.3 1605.9,626.2 1606.5,635.8 1607.8,689.1 1609.1,635.8 1609.8,627.9 1610.4,636.2 1611.1,640.8 1611.7,634.6 1612.4,629.0 1613.7,618.9 1614.3,617.8 1615.0,626.7 1615.6,635.1"/>
<polyline stroke="#0b0b0b" points="316.4,1096.5 322.9,1095.5 329.4,1094.4 335.9,1093.4 342.4,1092.3 348.9,1091.2 355.4,1090.2 361.9,1089.1 368.4,1088.0 374.9,1087.0 381.4,1085.9 387.9,1084.5 394.4,1083.1 400.8,1081.7 407.3,1080.2 413.8,1078.8 420.3,1077.4 426.8,1076.0 433.3,1074.6 439.8,1073.2 446.3,1071.7 452.8,1065.3 459.3,1058.6 460.0,1058.3 461.9,1058.7 462.6,1058.4 464.5,1053.5 467.8,1056.2 468.4,1055.2 470.4,1046.7 471.0,1046.8 471.7,1048.3 472.3,1049.9 473.0,1051.7 473.6,1052.5 474.9,1047.2 475.6,1044.0 476.2,1041.3 476.9,1042.8 477.5,1044.2 478.2,1045.4 478.8,1046.4 479.4,1044.7 480.1,1041.0 480.7,1037.2 481.4,1033.0 482.0,1029.9 483.3,1035.5 484.0,1038.5 484.6,1040.9 485.3,1035.9 485.9,1031.2 486.6,1026.6 487.9,1017.9 488.5,1017.2 489.2,1023.0 489.8,1028.6 490.5,1033.9 491.1,1030.1 493.1,1005.0 493.7,1002.1 495.7,1015.1 496.3,1013.7 497.0,1008.6 497.6,1003.9 498.3,999.6 499.6,991.4 501.5,1015.4 502.2,1017.5 503.5,1007.0 504.1,1001.5 504.8,995.7 505.4,996.7 506.1,1001.4 506.7,1005.8 507.4,1009.8 508.0,1009.9 508.7,1000.3 510.0,981.5 510.6,974.6 511.3,976.5 511.9,978.9 512.6,981.9 513.2,985.1 513.9,983.2 514.5,980.8 515.2,978.0 515.8,974.9 516.5,971.4 517.1,972.6 518.4,986.7 519.1,988.3 519.7,981.9 521.7,963.4 522.3,957.0 523.0,960.1 523.6,965.2 524.3,969.7 525.6,977.8 526.2,964.8 526.9,952.5 527.5,941.0 528.2,948.7 528.8,957.3 530.1,975.2 530.8,976.9 531.4,967.0 532.1,956.3 532.7,944.9 533.4,934.6 534.0,938.2 534.7,942.2 535.3,946.9 536.0,952.5 536.6,956.1 537.9,946.5 538.6,941.3 539.2,935.3 540.5,944.3 541.2,947.9 541.8,950.6 542.5,953.1 543.1,947.3 543.8,937.9 544.4,929.3 545.1,921.8 545.7,921.9 546.4,928.4 547.0,935.6 547.7,943.0 548.3,946.9 549.0,940.5 549.6,933.4 550.3,925.5 550.9,925.8 551.6,932.3 552.2,938.3 552.9,944.0 553.5,946.2 554.2,933.3 554.8,921.3 555.5,910.1 556.1,900.8 556.8,905.6 557.4,911.0 559.4,928.4 560.0,924.1 560.6,916.9 561.3,909.0 561.9,903.8 562.6,908.4 563.2,912.7 563.9,916.9 564.5,921.3 565.2,926.1 565.8,918.8 566.5,911.2 567.1,904.4 567.8,897.9 568.4,900.6 569.1,905.7 569.7,910.1 570.4,913.8 571.0,916.3 571.7,911.4 572.3,902.1 573.0,892.4 573.6,890.0 574.3,895.8 574.9,902.2 575.6,909.3 576.2,911.7 576.9,903.0 577.5,895.2 578.2,888.1 578.8,881.5 579.5,875.4 580.1,885.4 580.8,895.1 581.4,904.4 582.1,913.2 582.7,909.8 583.4,898.2 584.0,885.6 584.7,872.1 585.3,870.2 586.0,882.3 586.6,894.7 587.3,907.9 587.9,922.0 588.6,920.7 589.2,904.3 590.5,871.8 591.2,855.1 591.8,861.4 593.1,878.7 593.8,873.0 594.4,864.6 595.1,856.7 595.7,849.3 596.4,849.3 597.0,860.9 597.7,872.8 599.0,896.9 599.6,908.5 600.3,896.7 600.9,875.8 601.6,854.7 602.2,854.9 602.9,858.7 603.5,862.8 604.2,867.3 604.8,871.0 605.5,863.7 606.8,849.9 607.4,842.8 608.1,852.6 608.7,863.0 609.4,872.9 610.0,881.9 610.7,890.0 611.3,884.0 612.0,864.7 612.6,845.7 613.3,827.1 613.9,834.1 614.6,841.9 615.2,850.3 615.9,859.2 616.5,868.5 617.2,870.4 618.5,851.5 619.8,833.3 620.4,837.7 621.7,850.8 622.4,849.4 623.0,844.5 623.7,838.9 624.3,832.5 625.0,825.5 625.6,831.0 626.9,842.6 627.6,847.4 628.2,841.8 628.9,836.7 629.5,832.2 630.2,828.1 630.8,824.4 631.5,835.2 633.4,880.6 634.1,891.7 634.7,869.0 635.4,847.1 636.0,825.6 636.7,830.9 637.3,839.3 638.0,847.2 638.6,854.3 639.3,860.4 639.9,860.1 640.6,846.4 641.2,831.7 641.8,816.6 642.5,818.5 643.1,824.1 643.8,830.8 644.4,838.3 645.1,846.6 645.7,836.7 646.4,827.0 647.0,817.5 647.7,810.7 650.3,829.0 650.9,833.8 651.6,833.5 652.2,827.8 653.5,816.6 654.2,822.7 654.8,834.9 655.5,846.5 656.8,868.7 657.4,854.0 658.1,839.0 658.7,824.6 659.4,810.8 660.0,823.5 660.7,837.5 662.0,866.5 662.6,878.2 663.3,860.1 663.9,841.1 664.6,820.9 665.2,818.5 665.9,826.9 667.8,850.9 668.5,844.0 669.1,830.1 669.8,816.1 670.4,802.4 671.1,793.0 671.7,794.0 672.4,795.8 673.0,797.3 673.7,796.7 674.3,795.3 675.0,794.3 676.3,792.9 676.9,800.3 677.6,812.5 678.2,824.2 678.9,835.7 679.5,844.5 680.2,828.9 680.8,813.5 681.5,798.4 682.1,784.2 682.8,793.8 683.4,803.1 684.1,812.2 684.7,821.0 685.4,823.3 686.0,811.4 686.7,799.3 687.3,787.0 688.0,774.3 688.6,774.0 689.3,775.6 689.9,777.5 690.6,778.6 691.2,773.1 691.9,767.8 692.5,762.7 693.2,757.8 693.8,759.8 694.5,773.5 695.1,785.0 701.6,692.0 703.6,664.1 704.2,591.0 708.1,116.5 708.8,100.7 713.3,654.3 714.0,671.6 716.6,708.8 717.2,716.1 717.9,722.1 718.5,731.3 719.2,743.6 719.8,755.3 720.5,751.7 721.1,742.7 721.8,731.0 722.4,720.2 725.0,782.9 725.6,776.3 726.3,761.1 726.9,745.4 727.6,729.5 728.2,722.6 728.9,732.8 730.2,752.8 730.8,762.9 731.5,770.2 732.1,754.5 732.8,739.8 733.4,725.3 734.1,719.1 734.7,732.7 735.4,745.7 736.0,758.2 736.7,751.8 738.0,730.7 738.6,720.3 739.3,712.2 739.9,718.7 740.6,726.1 741.2,734.2 741.9,743.0 742.5,746.6 744.5,736.0 745.1,739.7 745.8,751.3 746.4,762.0 747.1,771.2 747.7,779.3 748.4,786.4 749.0,770.7 750.3,738.2 751.0,727.6 751.6,737.5 752.3,748.8 752.9,761.4 753.6,775.3 754.2,776.8 754.9,765.1 755.5,753.1 756.2,740.1 756.8,746.2 757.5,753.4 758.1,759.7 759.4,771.7 760.1,761.9 760.7,752.5 761.4,743.6 762.0,735.2 762.7,746.6 764.0,773.5 764.6,786.0 768.5,740.0 769.8,782.3 770.5,803.2 771.1,797.8 771.8,784.6 773.7,744.6 774.4,748.9 775.0,763.9 775.7,779.1 776.3,789.5 777.6,767.5 778.9,744.9 779.6,745.7 780.2,753.8 780.9,761.4 782.2,775.5 782.8,781.1 783.5,769.6 784.1,758.9 784.8,748.9 785.4,747.2 787.4,787.4 788.0,798.3 788.7,784.4 789.3,770.3 790.0,755.8 790.6,748.6 791.9,759.4 792.6,765.1 793.2,771.1 793.9,768.4 794.5,762.2 795.2,776.0 795.8,792.7 797.1,759.2 797.8,756.9 798.4,766.0 799.1,774.5 799.7,773.9 800.4,767.0 801.0,759.2 801.7,750.5 802.3,742.8 803.0,749.4 803.6,756.4 804.2,764.1 804.9,772.7 805.5,782.6 806.2,772.2 806.8,761.3 808.1,740.2 808.8,753.3 809.4,774.0 810.1,793.8 810.7,813.2 811.4,814.2 812.7,797.7 813.3,789.6 814.0,784.4 815.3,776.4 815.9,772.7 816.6,769.5 817.2,765.0 817.9,759.7 818.5,754.8 819.2,750.4 819.8,757.0 821.1,788.7 821.8,804.0 822.4,818.5 823.1,808.4 823.7,793.6 824.4,777.6 825.0,760.7 825.7,755.0 826.3,760.2 827.0,766.0 827.6,772.3 828.3,777.0 828.9,765.3 830.2,742.7 830.9,738.2 832.2,758.7 832.8,769.2 833.5,780.0 834.1,779.9 834.8,792.7 836.1,756.3 836.7,748.5 837.4,752.4 838.0,767.5 838.7,782.0 839.3,796.2 840.0,796.0 840.6,781.9 841.3,767.5 841.9,753.3 842.6,739.6 843.2,742.5 845.2,772.4 845.8,766.6 846.5,754.1 847.1,741.4 847.8,729.2 849.1,740.8 849.7,747.0 850.4,753.7 851.0,760.9 851.7,761.1 852.3,753.9 853.0,746.9 853.6,739.8 854.3,741.5 854.9,746.0 855.6,749.7 856.2,752.9 856.9,750.7 858.2,739.4 858.8,733.9 859.5,730.0 861.4,768.3 862.1,775.4 862.7,764.9 863.4,754.6 864.0,744.6 864.7,735.1 865.3,738.4 866.0,745.9 866.6,754.0 867.3,762.3 867.9,770.0 868.6,773.4 869.2,760.9 869.9,747.2 870.5,732.7 871.2,735.7 871.8,748.0 872.5,760.5 873.1,773.8 873.8,784.3 874.4,770.1 875.1,756.7 875.7,743.9 876.4,731.6 877.0,723.4 877.7,736.0 878.3,748.1 879.0,759.6 879.6,766.1 882.2,725.1 882.9,718.7 883.5,732.1 884.2,746.4 884.8,761.3 885.4,759.5 886.7,750.5 887.4,745.8 888.0,740.4 888.7,743.5 889.3,756.5 890.0,768.8 890.6,780.6 891.3,792.1 891.9,814.9 893.9,732.8 894.5,730.4 895.2,736.7 895.8,742.7 896.5,747.0 897.1,740.8 897.8,735.1 898.4,730.1 899.1,725.4 899.7,721.1 900.4,730.1 901.0,740.9 902.3,761.9 903.0,756.3 903.6,747.7 904.3,738.9 904.9,729.9 905.6,732.5 907.5,768.6 908.2,778.0 908.8,765.4 910.1,741.4 910.8,729.7 911.4,735.1 913.4,758.3 914.0,765.8 914.7,763.2 915.3,753.8 916.0,743.7 916.6,733.0 917.3,734.0 918.6,745.3 919.2,751.4 919.9,754.8 920.5,747.0 921.2,739.8 921.8,733.5 922.5,728.0 923.1,731.2 924.4,761.5 925.1,776.5 925.7,770.7 926.4,762.3 927.0,753.5 927.7,744.4 928.3,738.9 929.0,750.0 930.9,782.9 931.6,773.1 933.5,738.8 934.2,746.1 934.8,755.3 935.5,764.7 936.1,774.5 936.8,784.5 937.4,779.7 938.1,766.3 938.7,753.1 939.4,749.7 940.0,761.4 940.7,772.6 941.3,783.2 942.0,793.2 942.6,800.9 943.3,784.5 944.6,751.0 945.2,737.4 945.9,749.4 946.5,761.8 947.2,774.5 947.8,787.5 948.5,780.1 949.1,761.5 949.8,743.8 950.4,728.6 951.7,749.9 952.4,760.3 953.0,770.0 953.7,775.9 954.3,769.1 956.3,747.2 956.9,749.7 957.6,759.0 958.2,768.9 959.5,790.0 960.2,782.7 960.8,775.1 961.5,766.6 962.1,757.0 962.8,752.3 964.1,779.4 964.7,792.7 965.4,784.2 966.0,776.6 966.6,769.8 967.3,771.9 968.6,814.9 969.2,793.4 969.9,789.6 970.5,799.1 971.2,784.6 971.8,769.8 973.1,739.9 973.8,733.9 974.4,738.6 975.1,744.3 975.7,750.8 976.4,757.9 977.0,765.5 977.7,759.7 978.3,753.2 979.0,746.1 979.6,743.9 980.3,757.9 980.9,771.1 981.6,783.5 982.2,788.3 982.9,772.9 983.5,757.3 984.2,741.9 984.8,727.2 985.5,727.3 986.1,736.9 986.8,747.4 987.4,758.6 988.1,769.5 989.4,751.2 990.0,741.9 990.7,735.9 991.3,743.3 992.0,749.7 992.6,755.4 993.3,760.6 993.9,761.1 995.9,736.4 996.5,729.0 997.2,743.0 999.1,784.7 999.8,785.0 1001.1,751.3 1001.7,734.7 1002.4,735.3 1003.0,749.3 1005.0,792.5 1005.6,776.6 1006.3,758.9 1006.9,741.5 1007.6,724.5 1008.2,728.3 1009.5,746.8 1010.2,755.9 1010.8,764.6 1011.5,772.4 1012.1,755.6 1012.8,738.1 1013.4,721.7 1014.7,732.4 1015.4,737.9 1016.0,743.7 1016.7,750.1 1017.3,751.4 1018.0,743.7 1018.6,736.5 1019.3,729.7 1019.9,725.9 1021.9,818.4 1022.5,787.6 1023.2,757.6 1023.8,750.2 1024.5,742.2 1025.1,733.6 1025.8,724.6 1026.4,761.8 1027.1,799.2 1027.7,837.0 1028.4,830.9 1029.0,803.5 1030.3,749.1 1031.0,721.7 1031.6,727.7 1032.3,739.4 1033.6,762.5 1034.2,771.3 1034.9,754.5 1035.5,738.0 1036.2,722.1 1036.8,718.3 1037.5,736.3 1038.1,753.9 1038.8,771.1 1039.4,788.0 1040.1,780.3 1040.7,753.8 1041.4,727.5 1042.0,707.7 1044.6,765.4 1045.3,763.3 1045.9,746.3 1047.2,712.1 1047.8,706.6 1048.5,717.1 1049.1,728.4 1049.8,740.5 1050.4,753.2 1051.1,761.0 1051.7,750.9 1052.4,739.7 1053.0,727.3 1053.7,713.9 1054.3,718.4 1055.0,725.8 1055.6,732.9 1056.3,740.3 1056.9,748.3 1057.6,741.2 1058.2,729.6 1058.9,718.3 1059.5,709.4 1060.8,723.3 1061.5,729.9 1062.1,736.2 1062.8,727.3 1063.4,714.5 1064.1,702.7 1064.7,691.7 1065.4,692.6 1066.0,700.2 1067.3,715.9 1068.0,723.0 1068.6,722.7 1069.3,739.3 1069.9,760.0 1071.2,718.6 1071.9,698.9 1072.5,701.5 1073.2,704.7 1073.8,708.1 1074.5,702.2 1075.1,697.1 1075.8,692.8 1076.4,689.0 1077.1,688.8 1077.7,700.7 1078.4,712.4 1079.0,723.5 1079.7,733.8 1080.3,732.4 1081.0,718.5 1082.3,689.2 1084.2,757.2 1084.9,780.0 1085.5,771.1 1086.2,748.7 1086.8,727.2 1087.5,706.4 1088.1,686.1 1088.8,686.2 1089.4,704.1 1090.1,721.9 1090.7,739.4 1091.4,729.9 1092.0,718.6 1092.7,706.9 1094.0,682.7 1094.6,684.3 1095.3,694.8 1095.9,706.1 1096.6,712.8 1097.2,708.8 1097.9,704.7 1098.5,700.2 1099.2,695.0 1099.8,689.1 1100.5,693.8 1101.1,706.3 1101.8,718.1 1102.4,729.2 1103.1,724.9 1103.7,708.7 1104.4,692.8 1105.0,677.4 1105.7,676.5 1106.3,685.3 1107.0,694.5 1107.6,703.9 1108.3,708.3 1108.9,698.9 1109.6,689.9 1110.2,681.3 1110.9,673.1 1111.5,689.1 1112.8,733.4 1113.5,723.0 1114.1,720.4 1114.8,708.2 1115.4,695.6 1116.1,682.8 1116.7,669.8 1117.4,677.9 1119.3,715.1 1120.0,718.6 1120.6,702.5 1121.3,686.2 1121.9,669.5 1122.6,671.6 1123.2,674.0 1123.9,676.2 1125.8,682.3 1126.5,675.1 1127.1,668.4 1127.8,662.2 1128.4,660.7 1131.0,724.5 1131.6,727.4 1132.3,708.2 1132.9,688.6 1133.6,668.4 1134.2,648.6 1134.9,655.8 1136.2,669.6 1136.8,676.6 1137.5,675.0 1138.1,663.2 1138.8,652.3 1139.4,642.4 1140.1,633.2 1140.7,654.5 1141.4,677.2 1142.0,694.8 1142.7,686.7 1143.3,677.9 1144.0,669.0 1144.6,659.6 1145.3,649.8 1145.9,646.4 1147.2,672.5 1147.9,678.9 1148.5,697.2 1149.2,724.5 1151.1,642.5 1151.8,639.4 1152.4,641.7 1153.1,643.7 1153.7,642.8 1155.0,633.0 1155.7,628.4 1156.3,624.6 1157.0,626.9 1157.6,637.4 1158.3,648.5 1158.9,659.9 1159.6,659.7 1160.2,649.9 1160.9,639.9 1161.5,629.6 1162.2,628.0 1162.8,636.6 1163.5,644.9 1164.8,661.1 1165.4,658.7 1166.1,649.3 1166.7,640.2 1167.4,631.4 1168.0,622.9 1168.7,625.6 1169.3,634.2 1171.3,659.6 1171.9,656.7 1172.6,647.4 1173.2,637.7 1173.9,627.8 1174.5,623.2 1175.2,625.3 1175.8,627.3 1177.1,630.7 1177.8,628.3 1179.1,621.2 1179.7,617.0 1180.4,615.9 1181.0,620.4 1181.7,624.6 1182.3,625.6 1183.0,620.2 1183.6,615.4 1184.3,611.4 1184.9,609.2 1185.6,618.6 1186.2,628.7 1186.9,639.4 1187.5,650.6 1188.2,648.3 1188.8,643.2 1189.5,637.5 1190.1,630.9 1190.8,623.4 1191.4,616.7 1192.1,619.6 1192.7,622.2 1193.4,625.0 1194.0,628.2 1194.7,623.3 1195.3,616.6 1196.0,610.2 1196.6,613.0 1197.3,620.0 1197.9,626.6 1198.6,632.7 1199.2,638.4 1199.9,648.6 1201.2,737.8 1203.1,604.0 1203.8,607.3 1204.4,617.2 1205.1,627.3 1205.7,623.6 1206.4,617.6 1207.0,611.1 1207.7,603.8 1208.3,604.3 1209.0,613.7 1209.6,622.6 1210.9,640.1 1211.5,634.6 1212.2,621.7 1212.8,609.0 1214.1,584.3 1214.8,589.3 1215.4,607.7 1216.1,626.2 1216.7,645.0 1217.4,648.8 1218.0,630.5 1218.7,612.6 1219.3,595.3 1220.0,578.3 1220.6,601.6 1221.3,625.1 1221.9,648.1 1222.6,634.5 1223.2,615.0 1223.9,594.7 1224.5,574.0 1225.2,568.1 1225.8,570.4 1226.5,573.2 1227.1,576.6 1227.8,580.6 1228.4,585.3 1229.1,580.5 1229.7,607.2 1231.0,689.1 1232.3,607.2 1233.0,605.0 1233.6,615.4 1234.3,620.7 1234.9,602.8 1235.6,584.5 1236.2,565.9 1236.9,567.2 1237.5,575.0 1238.2,583.1 1238.8,591.6 1239.5,593.0 1240.1,582.4 1240.8,572.0 1241.4,561.9 1242.1,552.0 1242.7,548.3 1243.4,558.5 1244.0,568.9 1244.7,579.6 1245.3,584.1 1246.0,577.8 1246.6,571.4 1247.3,564.8 1247.9,557.7 1248.6,569.2 1249.2,580.1 1249.9,590.2 1250.5,599.9 1251.2,590.7 1251.8,576.6 1252.5,563.5 1253.1,551.4 1253.8,544.5 1254.4,562.8 1255.7,600.7 1256.4,619.2 1257.0,614.1 1257.7,597.8 1258.3,652.6 1259.6,813.1 1260.9,652.6 1261.6,590.3 1262.2,599.4 1262.9,602.8 1263.5,597.5 1264.2,591.8 1264.8,585.7 1265.5,579.0 1266.1,583.1 1267.4,594.0 1268.1,599.7 1268.7,593.4 1269.4,579.4 1270.0,566.0 1270.7,553.2 1271.3,542.1 1272.0,558.2 1272.6,575.1 1273.3,592.2 1273.9,593.1 1274.6,585.5 1275.2,577.2 1275.9,568.1 1276.5,558.2 1277.2,555.7 1279.1,578.9 1279.8,583.5 1280.4,574.4 1281.1,565.8 1281.7,557.8 1283.0,542.3 1283.7,551.7 1284.3,562.0 1285.0,572.4 1285.6,578.5 1286.3,580.0 1286.9,599.6 1288.2,560.4 1288.9,559.5 1289.5,566.3 1290.8,579.7 1291.4,571.5 1292.1,561.0 1292.7,550.9 1293.4,541.0 1294.0,537.2 1295.3,547.3 1296.0,552.1 1296.6,556.4 1297.3,560.1 1297.9,554.3 1298.6,547.9 1299.9,534.2 1300.5,542.2 1301.2,550.9 1301.8,560.4 1302.5,570.8 1303.1,562.7 1303.8,554.2 1304.4,545.9 1305.1,568.3 1306.4,635.9 1307.0,602.1 1307.7,595.3 1308.3,584.6 1309.0,573.8 1310.9,540.4 1311.6,542.4 1312.2,555.8 1313.5,583.1 1314.2,583.8 1314.8,570.7 1316.1,544.3 1316.8,547.3 1317.4,567.4 1318.7,608.2 1319.4,611.7 1320.0,592.2 1320.7,598.5 1322.0,729.0 1323.9,533.2 1324.6,537.5 1325.2,542.4 1325.9,539.9 1327.2,535.4 1327.8,532.7 1328.5,529.3 1329.1,543.5 1329.8,557.5 1330.4,571.0 1331.1,584.0 1331.7,585.7 1332.4,566.6 1333.0,548.0 1333.7,530.0 1334.3,534.2 1335.6,556.3 1336.3,567.0 1336.9,563.2 1337.6,553.5 1338.2,543.4 1338.9,532.8 1339.5,523.2 1340.8,540.4 1341.5,549.1 1342.1,558.3 1342.8,549.4 1343.4,539.8 1344.1,530.8 1344.7,522.5 1345.4,514.5 1346.0,521.9 1347.3,545.8 1348.0,558.0 1348.6,561.4 1350.6,530.5 1351.2,525.8 1351.9,533.2 1352.5,540.2 1353.2,546.6 1353.8,549.0 1355.8,531.1 1356.4,524.6 1357.1,526.2 1358.4,537.6 1359.0,543.1 1359.7,548.2 1360.3,546.6 1361.0,530.9 1361.6,515.5 1362.3,509.8 1362.9,524.5 1363.6,539.6 1364.2,555.1 1364.9,571.2 1365.5,569.8 1366.2,555.4 1366.8,555.0 1367.5,580.1 1368.8,529.9 1369.4,511.9 1370.1,517.2 1370.7,522.7 1371.4,519.4 1372.6,509.2 1373.3,504.2 1373.9,499.5 1374.6,497.3 1375.2,502.0 1375.9,506.8 1376.5,511.9 1377.2,514.4 1379.8,504.9 1380.4,507.3 1381.1,513.2 1381.7,518.6 1382.4,523.3 1383.0,519.8 1383.7,515.9 1384.3,511.8 1385.0,509.6 1385.6,515.3 1386.3,521.4 1387.6,534.3 1388.2,530.7 1388.9,523.0 1390.2,507.0 1390.8,498.5 1391.5,502.1 1392.8,511.6 1393.4,516.8 1394.1,522.7 1394.7,514.9 1395.4,508.0 1396.0,502.1 1396.7,497.0 1397.3,500.7 1398.0,519.1 1398.6,566.3 1399.9,674.9 1401.2,566.3 1401.9,524.3 1402.5,517.1 1403.2,519.1 1404.5,557.8 1405.1,576.6 1405.8,567.1 1406.4,553.4 1407.1,538.8 1407.7,523.7 1409.0,551.3 1409.7,565.5 1410.3,580.0 1411.0,583.3 1411.6,565.1 1412.9,529.2 1413.6,518.1 1415.5,559.3 1416.2,572.7 1416.8,563.2 1419.4,507.2 1420.1,516.6 1421.4,540.3 1422.0,552.4 1422.7,547.7 1423.3,536.0 1424.0,524.6 1424.6,513.7 1425.3,506.6 1428.5,559.6 1429.2,552.4 1429.8,535.2 1430.5,517.3 1431.1,509.3 1431.8,516.2 1433.1,529.5 1433.7,530.4 1434.4,523.0 1435.0,516.5 1435.7,510.8 1436.3,505.9 1437.0,501.5 1437.6,507.2 1438.3,522.5 1438.9,537.5 1439.6,552.1 1440.2,551.5 1440.9,538.3 1441.5,535.0 1442.8,599.6 1444.1,535.0 1444.8,542.2 1445.4,558.1 1446.1,551.7 1446.7,538.2 1447.4,524.4 1448.0,510.3 1448.7,500.7 1451.3,561.9 1451.9,566.1 1452.6,550.4 1453.2,535.1 1453.8,520.0 1454.5,506.8 1455.1,536.7 1455.8,574.3 1457.1,688.2 1458.4,574.3 1459.0,527.5 1459.7,517.9 1462.3,565.6 1462.9,577.5 1463.6,566.7 1464.2,554.9 1464.9,542.5 1465.5,529.6 1466.2,532.3 1467.5,543.2 1468.1,548.9 1468.8,548.5 1470.7,528.6 1471.4,526.2 1472.0,533.2 1472.7,539.8 1473.3,545.7 1474.0,551.0 1474.6,551.5 1475.3,536.8 1475.9,522.9 1476.6,510.2 1477.2,517.8 1477.9,528.3 1478.5,539.7 1479.8,563.4 1480.5,559.9 1481.1,551.0 1481.8,541.4 1482.4,531.1 1483.1,531.5 1483.7,545.4 1484.4,558.7 1485.0,571.7 1485.7,575.4 1486.3,561.3 1487.0,547.6 1488.3,520.8 1488.9,530.3 1489.6,542.0 1490.2,554.6 1490.9,567.9 1491.5,576.1 1492.2,562.6 1492.8,550.1 1493.5,537.8 1494.1,534.2 1494.8,551.4 1495.4,567.7 1496.1,583.0 1496.7,585.2 1497.4,573.7 1498.0,602.7 1498.7,635.9 1500.0,569.4 1500.6,562.6 1501.3,581.3 1501.9,600.5 1502.6,593.2 1503.2,579.3 1503.9,566.4 1504.5,554.1 1505.2,542.3 1505.8,558.6 1506.5,581.6 1507.1,603.8 1507.8,624.8 1508.4,623.4 1509.1,606.7 1509.7,589.4 1511.0,553.8 1511.7,545.8 1512.3,567.4 1513.0,589.9 1513.6,612.8 1514.3,601.8 1514.9,591.5 1516.9,562.2 1517.5,566.2 1519.5,618.5 1520.1,631.7 1520.8,612.9 1521.4,593.6 1522.1,574.0 1522.7,565.7 1523.4,581.7 1524.0,597.2 1525.3,627.6 1526.0,617.4 1526.6,604.8 1528.6,566.7 1529.2,572.4 1530.5,612.2 1531.2,631.8 1531.8,617.6 1532.5,600.3 1533.1,583.5 1533.8,567.1 1534.4,557.4 1535.0,565.7 1536.3,583.7 1537.0,589.9 1537.6,586.3 1538.3,582.0 1538.9,577.4 1539.6,572.2 1540.2,570.0 1541.5,603.2 1542.2,620.2 1542.8,637.5 1543.5,624.1 1545.4,584.8 1546.1,589.5 1546.7,630.5 1548.0,724.5 1549.3,630.5 1550.0,592.3 1550.6,588.9 1551.3,589.6 1551.9,599.9 1552.6,610.0 1553.2,619.8 1553.9,629.1 1554.5,623.9 1555.2,616.0 1555.8,606.7 1556.5,596.6 1557.1,586.1 1557.8,586.6 1558.4,590.7 1559.1,595.4 1559.7,600.8 1560.4,591.9 1561.0,583.8 1561.7,576.3 1562.3,570.1 1563.0,583.1 1563.6,596.5 1564.3,610.3 1564.9,624.4 1565.6,634.7 1566.9,615.1 1567.5,605.1 1568.2,607.9 1568.8,617.2 1569.5,625.8 1570.1,633.5 1570.8,640.4 1571.4,640.1 1573.4,609.1 1574.0,599.3 1574.7,606.0 1575.3,619.3 1576.0,632.9 1576.6,640.6 1577.3,631.4 1577.9,622.1 1578.6,612.4 1579.2,626.7 1580.5,689.1 1581.2,657.9 1581.8,635.4 1582.5,633.0 1583.1,622.5 1583.8,612.3 1584.4,602.7 1585.1,594.1 1585.7,593.0 1586.4,606.8 1587.0,621.1 1588.3,650.0 1589.0,657.2 1590.3,631.8 1591.6,605.7 1592.2,612.0 1592.9,624.9 1593.5,637.5 1594.2,642.5 1595.5,626.4 1596.1,618.1 1596.8,614.0 1597.4,633.0 1598.7,670.2 1599.4,688.9 1600.0,696.3 1600.7,674.3 1601.3,652.6 1602.0,631.2 1602.6,617.6 1604.6,695.3 1605.2,708.9 1605.9,695.3 1606.5,681.2 1613.0,750.1 1615.6,777.7"/>
</g>
<rect x="316.4" y="104.5" width="1299.2" height="1062.9" fill="none" stroke="#0a0a0a" stroke-width="4.6"/>
<path d="M446.3 1167.4v-16.5M706.2 1167.4v-16.5M966.0 1167.4v-16.5M1225.8 1167.4v-16.5M1485.7 1167.4v-16.5M316.4 281.6h16.5M316.4 458.8h16.5M316.4 636.0h16.5M316.4 813.1h16.5M316.4 990.2h16.5" stroke="#0a0a0a" stroke-width="4.4" fill="none"/>
<text x="447.3" y="1239.8" text-anchor="middle" word-spacing="-2">1 060</text>
<text x="707.2" y="1239.8" text-anchor="middle" word-spacing="-2">1 080</text>
<text x="967.0" y="1239.8" text-anchor="middle" word-spacing="-2">1 100</text>
<text x="1226.8" y="1239.8" text-anchor="middle" word-spacing="-2">1 120</text>
<text x="1486.7" y="1239.8" text-anchor="middle" word-spacing="-2">1 140</text>
<text x="293.6" y="121.9" text-anchor="end">0</text>
<text x="293.6" y="299.0" text-anchor="end">20</text>
<rect x="188.8" y="275.2" width="35.5" height="3.7"/>
<text x="293.6" y="476.2" text-anchor="end">40</text>
<rect x="188.8" y="452.3" width="35.5" height="3.7"/>
<text x="293.6" y="653.4" text-anchor="end">60</text>
<rect x="188.8" y="629.5" width="35.5" height="3.7"/>
<text x="293.6" y="830.5" text-anchor="end">80</text>
<rect x="188.8" y="806.6" width="35.5" height="3.7"/>
<text x="293.6" y="1007.6" text-anchor="end">100</text>
<rect x="155.3" y="983.8" width="35.5" height="3.7"/>
<text x="293.6" y="1184.8" text-anchor="end">120</text>
<rect x="155.3" y="1161.0" width="35.5" height="3.7"/>
<clipPath id="cR"><rect x="2335.2" y="104.5" width="1299.2" height="1062.9"/></clipPath>
<g clip-path="url(#cR)" fill="none" stroke-width="11" stroke-linejoin="round" stroke-linecap="round">
<polyline stroke="#429368" points="2335.2,1096.5 2341.7,1095.5 2348.2,1094.4 2354.7,1093.4 2361.2,1092.3 2367.7,1091.2 2374.2,1090.2 2380.7,1089.1 2387.2,1088.0 2393.7,1087.0 2400.2,1085.9 2406.7,1084.3 2413.2,1082.7 2419.6,1081.1 2426.1,1079.5 2432.6,1077.9 2439.1,1076.3 2445.6,1074.8 2452.1,1073.2 2458.6,1071.6 2465.1,1070.0 2471.6,1066.3 2478.1,1062.6 2480.7,1062.9 2483.3,1059.2 2484.0,1059.0 2485.9,1060.2 2486.6,1059.9 2489.8,1053.7 2492.4,1053.9 2493.1,1052.8 2495.0,1048.7 2495.7,1048.8 2497.6,1051.6 2498.2,1051.6 2498.9,1049.4 2500.2,1044.6 2500.8,1044.0 2503.4,1049.2 2504.1,1048.6 2506.7,1040.1 2507.3,1038.5 2509.9,1041.9 2510.6,1039.2 2511.9,1032.7 2514.5,1036.7 2515.1,1035.1 2517.1,1024.6 2517.7,1021.9 2520.3,1042.6 2521.0,1046.7 2523.6,1019.8 2524.2,1015.2 2526.2,1042.2 2526.8,1037.2 2529.4,1013.0 2530.1,1011.3 2530.7,1017.6 2531.4,1023.7 2532.0,1029.5 2532.7,1034.0 2534.6,1002.8 2535.3,1001.9 2535.9,1007.1 2536.6,1012.4 2537.2,1018.0 2538.5,1029.5 2541.1,988.6 2541.8,989.6 2542.4,996.2 2543.7,1009.3 2544.4,1010.7 2546.3,985.0 2547.0,983.6 2548.9,1000.5 2549.6,1005.9 2550.2,1000.9 2550.9,991.2 2551.5,981.1 2552.2,973.2 2552.8,975.3 2553.5,988.9 2554.8,1032.8 2556.1,988.9 2556.7,977.3 2558.7,962.4 2559.3,969.5 2560.0,976.9 2560.6,982.3 2563.2,964.3 2563.9,961.4 2564.5,963.3 2565.2,964.9 2565.8,966.1 2566.5,966.9 2567.1,964.4 2567.8,960.1 2568.4,955.9 2569.1,952.0 2569.7,948.5 2570.4,950.3 2571.7,966.7 2572.3,967.7 2573.0,962.5 2573.6,957.1 2574.3,974.9 2575.6,1030.1 2576.9,974.9 2577.5,972.2 2578.2,980.7 2578.8,979.0 2580.1,956.2 2580.7,944.4 2581.4,943.2 2582.0,954.9 2582.7,966.3 2583.3,977.4 2584.0,968.9 2585.9,942.0 2586.6,933.3 2587.2,935.5 2588.5,968.4 2589.2,980.7 2591.8,921.9 2592.4,922.0 2593.1,927.7 2593.7,933.8 2594.4,940.2 2595.0,947.0 2595.7,954.0 2596.3,942.0 2597.0,929.0 2597.6,916.2 2598.3,912.2 2599.6,936.7 2600.2,948.8 2600.9,957.5 2601.5,947.8 2602.2,937.9 2603.5,917.5 2604.1,911.0 2606.1,934.5 2606.7,937.8 2608.7,912.4 2609.3,903.6 2610.0,895.4 2611.3,909.6 2611.9,916.9 2612.6,924.5 2613.9,908.7 2615.2,893.5 2615.8,899.6 2617.8,927.8 2618.4,932.4 2619.1,917.5 2619.7,913.0 2621.0,969.9 2622.3,913.0 2623.0,899.3 2624.3,908.1 2624.9,902.6 2626.9,882.0 2627.5,883.9 2628.8,900.6 2629.5,899.2 2631.4,876.7 2632.1,871.6 2635.3,907.0 2636.0,899.9 2637.3,881.0 2637.9,880.8 2639.2,919.4 2639.9,900.1 2640.5,886.0 2641.2,889.7 2643.8,858.0 2644.4,861.9 2645.7,870.9 2646.4,874.6 2647.0,869.8 2648.3,860.0 2649.0,855.2 2649.6,850.7 2650.3,849.6 2652.2,865.8 2652.9,866.5 2653.5,862.8 2654.2,858.7 2654.8,854.4 2655.5,849.8 2656.1,849.0 2658.1,865.3 2658.7,871.0 2659.4,862.2 2660.6,843.4 2661.3,839.1 2663.2,851.6 2663.9,850.5 2664.5,845.5 2665.8,835.0 2666.5,854.1 2667.8,899.9 2668.4,877.0 2669.1,855.9 2669.7,851.6 2670.4,845.4 2671.0,839.4 2672.3,828.0 2673.0,824.1 2674.9,832.4 2675.6,833.1 2676.2,830.8 2676.9,828.3 2677.5,825.6 2678.2,822.6 2678.8,829.4 2680.1,846.6 2680.8,854.7 2681.4,847.7 2683.4,827.6 2684.0,827.5 2686.6,866.6 2687.3,858.7 2688.6,833.7 2689.2,821.0 2689.9,838.6 2691.2,888.4 2691.8,863.5 2692.5,845.3 2693.1,846.8 2694.4,820.2 2695.1,810.8 2696.4,830.3 2697.0,839.2 2697.7,847.9 2698.3,851.6 2700.9,804.0 2701.6,801.1 2702.9,824.1 2703.5,834.6 2704.2,825.2 2706.8,789.5 2707.4,782.7 2709.4,783.1 2710.0,781.1 2711.3,765.5 2712.0,757.2 2712.6,755.7 2713.3,760.2 2713.9,762.6 2714.6,762.8 2715.2,758.2 2715.9,783.5 2717.2,864.5 2719.1,743.0 2719.8,735.1 2720.4,711.2 2723.7,157.6 2724.3,91.2 2727.6,644.8 2728.2,739.1 2729.5,739.1 2730.2,739.3 2730.8,741.4 2731.5,745.0 2732.1,750.0 2732.8,752.0 2733.4,751.5 2734.1,749.5 2734.7,746.2 2735.4,743.4 2736.0,745.3 2736.7,747.5 2738.0,750.8 2740.6,743.4 2741.2,750.1 2741.8,758.9 2743.8,790.5 2744.4,786.7 2747.0,762.2 2747.7,764.6 2748.3,770.7 2749.6,782.3 2750.3,786.4 2751.6,778.3 2752.2,774.0 2752.9,771.2 2754.2,800.8 2754.8,814.6 2755.5,804.9 2756.1,802.0 2757.4,864.5 2758.7,802.0 2759.4,787.8 2760.7,810.1 2761.3,801.6 2762.6,784.3 2763.3,775.8 2763.9,770.7 2764.6,778.2 2765.9,793.6 2766.5,801.1 2767.2,808.2 2767.8,801.1 2768.5,793.5 2769.1,785.7 2769.8,777.7 2770.4,775.7 2771.1,783.5 2771.7,791.6 2772.4,800.1 2773.0,804.1 2773.7,795.2 2775.0,777.6 2775.6,783.4 2776.3,796.9 2776.9,810.2 2777.6,823.3 2778.2,830.7 2780.8,779.7 2781.5,783.8 2783.4,821.2 2784.1,821.0 2785.4,799.0 2786.7,776.5 2787.3,772.6 2789.3,780.5 2789.9,780.3 2790.6,776.9 2791.2,782.2 2792.5,814.9 2793.8,782.2 2794.5,789.7 2795.1,798.4 2795.8,795.3 2797.7,766.5 2798.4,767.9 2801.0,780.1 2801.6,781.7 2802.9,770.2 2803.6,764.2 2804.2,759.7 2804.9,762.6 2806.8,770.1 2807.5,765.5 2809.4,749.8 2810.1,751.3 2810.7,753.1 2812.0,757.9 2812.7,757.8 2814.6,750.8 2815.3,751.0 2816.6,768.3 2818.5,795.0 2819.2,791.5 2820.5,761.3 2821.1,758.2 2821.8,766.2 2822.4,774.0 2823.7,789.2 2824.3,785.9 2826.3,754.3 2826.9,748.0 2828.2,761.4 2828.9,768.3 2829.5,774.2 2830.8,762.6 2831.5,770.0 2832.8,814.9 2833.4,792.4 2834.1,796.2 2834.7,811.5 2835.4,809.9 2838.0,752.7 2838.6,753.7 2841.2,787.6 2841.9,778.5 2843.2,757.3 2843.8,755.5 2845.8,780.3 2846.4,787.9 2847.1,777.1 2847.7,766.4 2848.4,755.9 2849.0,745.7 2849.7,749.8 2851.6,775.0 2852.3,778.1 2852.9,772.6 2853.6,767.0 2854.2,761.1 2854.9,755.1 2855.5,749.2 2856.2,748.4 2858.1,764.8 2858.8,765.2 2860.7,751.8 2861.4,752.9 2864.0,799.7 2864.6,804.1 2866.6,747.9 2867.2,748.7 2867.9,757.9 2868.5,767.3 2869.2,776.9 2869.8,781.3 2872.4,754.8 2873.1,755.9 2875.0,777.7 2875.7,774.9 2878.3,749.3 2878.9,753.1 2880.9,830.8 2882.2,779.0 2882.8,761.2 2884.1,756.7 2884.8,759.3 2886.1,783.9 2886.7,789.2 2890.0,756.1 2890.6,763.1 2891.9,778.9 2892.6,778.4 2893.2,773.5 2895.8,752.4 2896.5,754.4 2897.1,758.7 2897.8,763.5 2898.4,768.6 2899.1,770.3 2899.7,765.1 2901.0,755.1 2901.7,751.5 2902.3,757.6 2904.2,774.8 2904.9,770.1 2905.5,763.7 2906.2,757.4 2906.8,754.8 2908.8,774.1 2909.4,780.3 2910.1,786.2 2910.7,777.2 2912.0,755.9 2912.7,757.6 2914.6,781.4 2915.3,779.4 2917.9,747.5 2918.5,745.0 2920.5,759.5 2921.1,757.0 2922.4,749.6 2923.1,746.1 2923.7,742.8 2924.4,742.7 2925.0,752.6 2926.3,774.7 2927.0,771.4 2928.9,747.4 2929.6,741.4 2930.2,745.8 2932.8,762.7 2933.5,761.2 2934.1,756.4 2934.8,751.5 2935.4,746.3 2936.1,751.9 2938.0,782.2 2941.3,749.6 2941.9,750.4 2943.2,781.5 2943.9,781.9 2946.5,751.5 2947.1,748.3 2947.8,753.7 2948.4,782.3 2949.7,845.9 2951.0,782.3 2951.7,758.4 2952.3,751.7 2953.0,751.3 2953.6,755.8 2954.3,760.7 2954.9,766.1 2955.6,769.4 2957.5,762.8 2958.2,763.0 2958.8,770.9 2959.5,777.6 2960.1,783.8 2960.8,789.6 2961.4,794.9 2962.1,786.0 2963.4,760.4 2964.0,754.7 2964.7,758.1 2965.3,761.8 2966.0,765.7 2966.6,770.0 2967.3,774.3 2967.9,769.6 2969.9,746.7 2970.5,754.9 2971.8,773.0 2972.5,779.5 2973.1,770.5 2973.8,761.8 2974.4,753.4 2975.1,745.2 2975.7,742.3 2977.7,768.3 2978.3,776.7 2979.0,768.6 2979.6,759.0 2980.3,749.1 2980.9,740.3 2981.6,749.0 2984.2,783.2 2984.8,774.0 2986.1,745.2 2986.7,736.6 2987.4,742.9 2989.3,762.9 2990.0,764.7 2991.9,736.8 2992.6,728.3 2994.5,749.0 2995.2,752.3 2995.8,748.5 2996.5,744.4 2998.4,731.2 2999.1,736.2 3001.0,774.8 3001.7,762.0 3002.3,748.2 3003.0,734.7 3003.6,721.8 3005.6,745.8 3006.9,762.6 3007.5,762.7 3008.8,741.9 3009.5,731.2 3010.1,732.2 3010.8,739.7 3011.4,746.9 3012.7,761.1 3013.4,759.0 3014.0,743.6 3014.7,728.4 3015.3,728.2 3017.3,749.5 3017.9,756.4 3018.6,763.1 3019.2,754.3 3021.2,719.4 3021.8,718.9 3022.5,726.7 3023.1,734.7 3023.8,743.0 3024.4,745.1 3026.4,717.7 3027.0,713.2 3029.6,722.0 3030.3,723.9 3032.2,717.7 3032.9,718.0 3034.8,724.3 3035.5,722.7 3036.1,719.1 3038.1,707.7 3038.7,706.7 3040.7,733.7 3041.3,739.7 3043.3,706.2 3043.9,697.9 3044.6,703.1 3045.2,708.7 3046.5,720.4 3047.2,723.8 3048.5,712.8 3049.1,707.0 3049.8,701.0 3050.4,705.9 3051.7,727.2 3052.4,732.8 3053.0,726.2 3053.7,719.7 3055.6,700.8 3056.3,708.6 3056.9,722.5 3057.6,736.1 3058.2,749.6 3058.9,739.7 3059.5,723.6 3060.2,707.7 3060.8,692.1 3061.5,696.2 3064.1,716.7 3064.7,713.2 3065.4,706.5 3067.3,686.0 3067.9,692.7 3069.2,706.8 3069.9,710.4 3072.5,685.4 3073.1,687.5 3073.8,698.7 3074.4,710.3 3075.1,722.3 3075.7,717.4 3077.0,699.8 3077.7,690.6 3078.3,681.8 3079.0,689.4 3080.3,704.2 3080.9,710.0 3081.6,703.0 3082.2,696.2 3082.9,689.6 3083.5,683.2 3084.2,677.0 3084.8,682.2 3085.5,688.2 3086.1,694.1 3086.8,699.8 3087.4,703.0 3088.7,680.5 3089.4,669.7 3092.6,683.5 3093.3,682.6 3093.9,678.2 3094.6,673.5 3095.2,669.2 3095.9,674.5 3097.8,689.6 3098.5,684.3 3099.1,678.7 3101.1,662.8 3101.7,670.1 3103.0,691.0 3103.7,697.8 3105.6,679.7 3106.3,673.4 3106.9,666.8 3107.6,666.7 3109.5,691.0 3110.2,688.5 3111.5,672.0 3112.1,664.0 3112.8,656.2 3113.4,653.4 3115.4,668.3 3116.0,670.7 3117.3,659.2 3118.0,656.6 3118.6,662.9 3119.3,668.9 3119.9,674.6 3120.6,680.1 3121.2,685.3 3121.9,678.6 3122.5,671.2 3123.2,663.8 3123.8,656.7 3124.5,649.8 3125.1,656.0 3126.4,673.1 3127.1,680.0 3129.7,671.7 3130.3,670.1 3132.3,668.4 3132.9,664.1 3134.9,649.7 3135.5,648.9 3137.5,662.5 3138.1,666.4 3140.1,651.7 3140.7,646.5 3141.4,647.6 3144.0,663.1 3144.6,657.8 3145.9,644.0 3146.6,637.3 3147.2,638.1 3147.8,649.1 3149.1,671.7 3149.8,673.1 3153.0,636.7 3153.7,641.4 3155.0,653.6 3155.6,653.1 3156.3,645.8 3157.6,630.5 3158.2,631.2 3160.8,653.3 3161.5,656.3 3162.1,645.5 3162.8,634.9 3163.4,624.4 3164.1,630.2 3166.7,669.2 3167.3,673.2 3168.0,661.6 3168.6,649.9 3169.3,638.0 3169.9,625.7 3170.6,620.5 3172.5,642.0 3173.2,638.9 3173.8,632.3 3174.5,626.0 3175.1,620.0 3175.8,614.2 3176.4,617.3 3177.1,625.5 3177.7,633.6 3178.4,641.3 3179.0,635.9 3181.0,612.8 3181.6,613.5 3182.3,620.8 3182.9,628.2 3184.2,643.8 3184.9,642.7 3186.2,613.0 3186.8,612.5 3189.4,656.6 3190.1,659.0 3190.7,646.4 3192.7,607.8 3193.3,602.9 3194.6,618.3 3195.3,626.3 3195.9,634.6 3196.6,621.5 3197.9,592.9 3198.5,593.8 3199.2,600.2 3200.5,612.5 3201.1,617.3 3201.8,611.5 3202.4,605.9 3203.7,595.1 3204.4,591.9 3205.7,605.5 3206.3,612.0 3207.0,618.3 3207.6,616.9 3208.9,590.3 3209.6,581.0 3210.2,585.9 3210.9,591.1 3211.5,596.6 3212.2,602.5 3212.8,607.6 3215.4,581.4 3216.1,575.3 3216.7,587.7 3218.0,611.9 3218.7,613.7 3221.3,567.2 3221.9,580.4 3223.2,610.9 3223.9,622.5 3227.1,565.7 3227.8,569.9 3228.4,574.6 3229.7,584.4 3230.3,581.4 3232.3,568.4 3232.9,565.2 3233.6,573.0 3234.2,580.7 3234.9,588.3 3235.5,595.6 3236.2,587.1 3238.1,557.6 3238.8,553.2 3240.7,569.6 3241.4,571.8 3243.3,547.3 3244.0,549.9 3245.9,576.3 3246.6,583.6 3247.2,575.4 3247.9,567.5 3249.8,544.8 3250.5,546.3 3251.8,579.5 3252.4,591.4 3253.1,580.2 3255.0,545.7 3255.7,538.9 3256.3,548.0 3257.6,566.8 3258.3,567.7 3260.9,532.5 3261.5,530.0 3262.8,543.2 3263.5,549.6 3264.1,552.9 3266.7,527.7 3267.4,525.6 3269.3,547.5 3270.0,542.4 3271.9,524.4 3272.6,518.2 3273.2,523.7 3275.2,549.0 3275.8,557.8 3276.5,552.3 3277.1,540.7 3278.4,517.9 3279.1,533.5 3280.4,566.5 3281.0,572.2 3281.7,560.3 3282.3,548.2 3283.0,535.9 3283.6,523.4 3284.3,523.2 3284.9,538.0 3285.6,553.1 3286.2,568.4 3286.9,583.9 3289.5,520.3 3290.1,512.1 3292.1,540.6 3292.7,540.3 3296.0,497.1 3296.6,502.8 3297.9,517.8 3298.6,520.1 3299.2,514.3 3299.9,508.7 3300.5,503.4 3301.2,498.3 3301.8,498.5 3303.8,527.1 3304.4,524.3 3306.4,494.4 3307.0,498.2 3309.6,534.8 3310.2,535.5 3312.2,501.9 3312.8,498.8 3315.4,532.4 3316.1,524.5 3318.0,488.2 3318.7,481.3 3321.3,523.9 3321.9,528.4 3323.9,474.0 3324.5,486.8 3325.2,500.4 3325.8,514.2 3326.5,528.2 3327.1,542.5 3327.8,540.1 3328.4,515.0 3329.1,489.6 3329.7,473.0 3330.4,480.0 3331.0,486.7 3332.3,499.4 3333.0,496.9 3334.9,470.5 3335.6,470.6 3336.2,475.3 3338.2,490.2 3338.8,490.7 3341.4,462.0 3342.1,467.7 3342.7,484.1 3343.4,500.7 3344.0,517.5 3344.7,509.2 3345.3,490.8 3346.0,472.6 3346.6,463.5 3347.3,478.5 3347.9,493.2 3348.6,507.7 3349.2,522.0 3349.9,535.9 3350.5,524.8 3351.2,502.4 3351.8,479.7 3352.5,460.0 3353.8,473.1 3354.4,479.9 3355.1,486.9 3355.7,494.1 3356.4,486.4 3358.3,455.2 3359.0,455.7 3361.6,473.7 3363.5,457.7 3364.2,453.3 3365.5,463.9 3366.1,469.4 3366.8,475.1 3367.4,481.0 3368.1,484.8 3368.7,487.9 3369.4,491.2 3370.0,493.1 3372.0,496.3 3372.6,490.2 3373.3,479.6 3373.9,468.8 3374.6,457.8 3375.2,449.4 3378.5,493.0 3379.1,495.7 3381.1,453.8 3381.7,455.1 3382.4,458.1 3383.0,460.9 3384.3,466.1 3385.0,464.7 3386.3,448.2 3386.9,447.1 3387.6,452.6 3388.9,464.1 3390.2,475.0 3390.8,467.6 3392.1,448.4 3392.7,453.8 3394.0,475.2 3394.7,486.1 3395.3,493.2 3397.9,454.3 3398.6,457.1 3401.2,513.3 3401.8,500.9 3404.4,444.4 3405.1,464.3 3406.4,505.5 3407.0,506.7 3410.3,441.7 3410.9,450.1 3412.9,494.1 3413.5,489.7 3414.8,451.7 3415.5,444.7 3418.1,465.2 3418.7,470.7 3419.4,466.9 3420.7,452.0 3421.3,444.4 3422.0,452.1 3422.6,462.0 3423.3,471.5 3423.9,480.9 3424.6,482.8 3426.5,452.1 3427.2,451.5 3427.8,454.4 3429.8,463.7 3430.4,464.5 3431.1,457.8 3431.7,450.9 3432.4,443.7 3433.0,450.7 3433.7,460.8 3434.3,471.3 3435.0,482.2 3435.6,493.5 3436.3,493.9 3438.2,456.6 3438.9,450.5 3439.5,465.2 3440.2,479.5 3440.8,493.5 3441.5,507.2 3442.1,496.3 3444.1,453.6 3444.7,461.9 3445.4,471.1 3446.7,490.0 3447.3,491.5 3449.3,467.2 3449.9,462.6 3451.9,500.1 3452.5,512.2 3453.2,503.3 3455.1,466.2 3455.8,454.3 3457.7,474.8 3458.4,481.9 3459.0,485.2 3459.7,474.4 3460.3,463.9 3461.0,456.9 3462.3,471.0 3462.9,477.8 3463.6,484.4 3464.2,490.7 3464.9,487.0 3467.5,459.9 3468.1,467.0 3470.1,490.5 3470.7,485.3 3471.4,478.6 3472.6,465.5 3473.3,465.7 3475.9,492.6 3476.5,491.0 3477.2,481.5 3477.8,471.8 3478.5,472.8 3481.1,522.0 3481.7,512.9 3484.3,476.1 3485.0,483.0 3486.3,515.2 3486.9,521.3 3489.5,482.5 3490.2,472.4 3490.8,485.7 3491.5,500.6 3492.1,515.4 3492.8,530.0 3493.4,518.4 3494.1,502.3 3494.7,486.5 3495.4,471.0 3496.0,477.2 3498.0,504.7 3498.6,502.2 3499.3,495.7 3500.6,483.3 3501.2,480.0 3503.2,489.7 3503.8,491.9 3504.5,491.4 3505.1,490.8 3505.8,489.9 3506.4,488.9 3507.1,487.6 3507.7,496.9 3508.4,506.7 3509.0,516.6 3509.7,526.9 3510.3,533.3 3511.0,520.2 3512.3,494.3 3512.9,495.2 3514.9,527.5 3515.5,529.1 3518.1,500.8 3518.8,499.5 3520.7,534.0 3521.4,543.8 3524.6,509.2 3525.3,513.6 3525.9,521.6 3526.6,529.3 3527.2,536.8 3527.9,537.2 3528.5,530.2 3529.8,515.6 3530.5,513.4 3531.1,518.2 3531.8,523.3 3532.4,528.6 3533.1,529.1 3535.0,520.4 3535.7,518.6 3538.3,566.8 3538.9,566.1 3541.5,535.5 3542.2,542.2 3542.8,554.3 3543.5,566.2 3544.1,577.8 3544.8,574.4 3546.7,528.9 3547.4,529.4 3549.3,542.5 3550.0,543.9 3551.9,529.2 3552.6,530.2 3553.8,561.4 3554.5,577.2 3555.1,592.8 3555.8,580.3 3556.4,567.9 3557.7,543.7 3558.4,540.0 3559.0,547.9 3559.7,555.5 3560.3,562.7 3561.0,569.5 3561.6,565.2 3563.6,540.8 3564.2,543.5 3566.8,563.9 3567.5,568.5 3569.4,544.0 3570.1,545.8 3572.7,563.9 3574.6,554.8 3575.3,551.5 3575.9,560.5 3577.9,593.1 3578.5,599.6 3581.1,566.8 3581.8,563.3 3583.7,589.8 3584.4,586.4 3587.6,558.7 3588.3,572.8 3588.9,587.6 3589.6,599.5 3592.2,568.3 3592.8,569.1 3593.5,576.7 3594.1,584.5 3594.8,592.5 3595.4,600.7 3596.1,609.1 3598.0,577.3 3598.7,578.3 3600.6,621.9 3601.3,631.9 3601.9,621.7 3602.6,611.7 3604.5,582.4 3605.2,589.5 3605.8,608.9 3606.5,628.2 3607.1,644.2 3607.8,633.0 3609.7,598.7 3610.4,592.9 3613.0,635.9 3613.6,637.4 3614.9,605.7 3615.6,590.1 3618.8,621.3 3619.5,617.9 3620.1,633.3 3621.4,698.0 3622.7,633.3 3623.4,632.6 3624.0,637.9 3625.3,624.0 3626.0,616.8 3626.6,609.4 3627.3,609.9 3627.9,626.9 3629.2,660.2 3629.9,655.8 3630.5,640.9 3631.2,626.2 3631.8,612.0 3632.5,601.8 3633.8,613.9 3634.4,619.7"/>
<polyline stroke="#ea22e6" points="2335.2,1096.5 2341.7,1095.5 2348.2,1094.4 2354.7,1093.4 2361.2,1092.3 2367.7,1091.2 2374.2,1090.2 2380.7,1089.1 2387.2,1088.0 2393.7,1087.0 2400.2,1085.9 2406.7,1084.3 2413.2,1082.7 2419.6,1081.1 2426.1,1079.5 2432.6,1077.9 2439.1,1076.3 2445.6,1074.8 2452.1,1073.2 2458.6,1071.6 2465.1,1070.0 2471.6,1063.3 2477.5,1057.3 2480.7,1055.1 2481.4,1054.2 2483.3,1050.9 2484.0,1050.2 2486.6,1048.9 2487.2,1048.3 2489.2,1044.0 2489.8,1043.6 2491.8,1044.8 2492.4,1043.9 2495.0,1036.0 2495.7,1034.4 2497.6,1037.9 2498.2,1037.9 2498.9,1035.4 2500.2,1029.9 2500.8,1028.0 2503.4,1030.5 2504.1,1029.4 2506.0,1021.7 2506.7,1022.1 2508.6,1025.9 2509.3,1025.9 2511.9,1010.5 2512.5,1011.4 2515.1,1026.3 2515.8,1022.5 2517.7,1009.4 2518.4,1008.8 2519.0,1010.4 2519.7,1011.6 2520.3,1012.7 2521.0,1012.0 2522.9,996.7 2523.6,994.6 2526.2,1015.0 2526.8,1017.9 2528.8,989.7 2529.4,984.0 2532.7,1003.1 2535.3,973.5 2535.9,968.2 2536.6,969.9 2537.2,971.8 2537.9,974.0 2538.5,976.5 2539.2,972.5 2540.5,961.2 2541.1,960.3 2541.8,963.7 2542.4,966.8 2543.1,969.7 2543.7,972.2 2544.4,968.4 2546.3,949.3 2547.0,944.2 2547.6,953.9 2548.3,963.9 2548.9,974.2 2549.6,978.6 2552.2,947.6 2552.8,940.2 2553.5,950.9 2554.8,971.8 2555.4,972.1 2556.1,961.3 2556.7,950.7 2557.4,940.2 2558.0,937.2 2560.6,958.4 2561.3,960.4 2563.9,932.0 2564.5,927.2 2565.8,942.4 2566.5,948.6 2567.1,943.0 2567.8,937.3 2569.1,925.3 2569.7,931.7 2570.4,939.0 2571.7,953.2 2572.3,959.3 2573.0,946.4 2573.6,933.7 2574.3,921.3 2574.9,911.0 2575.6,916.7 2578.2,940.7 2578.8,940.5 2580.7,905.5 2581.4,912.2 2583.3,933.6 2584.0,930.4 2585.9,904.7 2586.6,899.7 2589.2,940.8 2589.8,931.9 2592.4,890.6 2593.1,887.7 2595.0,919.5 2595.7,918.2 2597.0,894.0 2597.6,882.2 2598.3,875.9 2598.9,882.3 2600.9,902.0 2601.5,897.6 2602.2,891.5 2603.5,879.0 2604.1,872.6 2604.8,874.7 2606.7,900.6 2607.4,900.2 2609.3,868.5 2610.0,862.6 2610.6,871.8 2611.3,881.1 2611.9,890.7 2612.6,896.7 2615.2,867.2 2615.8,862.1 2616.5,873.2 2617.1,884.1 2617.8,894.8 2618.4,898.1 2619.1,888.9 2619.7,879.4 2620.4,869.8 2621.0,860.0 2621.7,862.8 2624.3,901.0 2624.9,886.9 2626.2,855.3 2626.9,847.1 2628.8,855.7 2629.5,858.3 2630.1,853.4 2630.8,848.6 2632.1,839.8 2632.7,836.2 2634.7,860.7 2635.3,868.6 2636.0,870.7 2637.9,841.4 2638.6,832.4 2639.9,843.0 2640.5,848.6 2641.2,854.3 2641.8,849.4 2643.1,831.2 2643.8,827.1 2645.7,842.8 2646.4,847.7 2647.0,852.5 2647.7,841.3 2649.0,818.5 2649.6,820.6 2650.3,824.9 2650.9,829.4 2651.6,834.1 2652.2,839.2 2652.9,840.7 2654.8,823.0 2655.5,816.9 2656.1,818.6 2656.8,831.4 2657.4,843.8 2658.1,856.0 2658.7,850.4 2660.0,821.4 2660.6,807.2 2661.3,806.5 2662.6,828.8 2663.2,840.2 2663.9,848.7 2666.5,801.0 2667.1,798.3 2667.8,800.3 2668.4,802.5 2669.1,805.0 2669.7,807.8 2670.4,807.1 2671.7,802.3 2672.3,803.3 2673.0,808.5 2673.6,813.3 2674.3,817.7 2674.9,821.8 2675.6,821.8 2677.5,800.1 2678.2,793.2 2678.8,796.5 2679.5,802.9 2680.1,809.6 2680.8,811.7 2682.7,798.0 2683.4,793.3 2684.0,800.5 2684.7,808.5 2685.3,816.2 2687.3,838.1 2687.9,822.6 2689.2,790.9 2689.9,776.6 2690.5,779.9 2691.2,783.4 2691.8,787.3 2692.5,791.5 2693.1,788.5 2693.8,783.8 2695.1,774.6 2695.7,783.2 2696.4,793.4 2697.7,811.8 2698.3,806.3 2700.9,777.3 2701.6,770.2 2704.2,798.4 2704.8,795.1 2706.1,773.5 2706.8,763.5 2708.7,802.4 2709.4,803.5 2710.0,785.6 2710.7,767.5 2711.3,749.2 2712.0,730.4 2712.6,726.2 2713.3,737.2 2713.9,744.1 2714.6,747.0 2715.2,736.8 2715.9,735.6 2717.2,799.8 2719.1,703.5 2719.8,695.4 2720.4,695.2 2721.1,600.5 2723.7,157.6 2724.3,91.2 2727.6,644.8 2728.2,692.2 2730.2,691.5 2730.8,692.7 2731.5,695.0 2732.1,698.4 2732.8,703.0 2733.4,700.9 2734.1,696.2 2734.7,689.5 2735.4,690.4 2736.0,697.5 2736.7,705.8 2737.3,713.4 2738.6,729.2 2739.3,724.7 2739.9,716.1 2740.6,707.4 2741.2,719.9 2741.8,737.9 2742.5,757.3 2743.1,776.6 2743.8,780.4 2745.1,750.3 2745.7,735.5 2746.4,721.2 2747.0,733.4 2747.7,750.9 2748.3,768.6 2749.0,785.6 2749.6,779.7 2750.3,768.5 2750.9,756.9 2751.6,744.9 2752.2,740.9 2752.9,746.1 2754.8,760.9 2755.5,764.7 2756.1,771.1 2757.4,822.0 2758.7,771.1 2759.4,768.3 2760.0,777.1 2760.7,783.4 2762.6,762.8 2763.3,755.7 2763.9,749.9 2764.6,758.2 2765.2,766.8 2765.9,775.8 2766.5,780.9 2767.2,773.2 2769.1,750.7 2769.8,754.6 2772.4,790.4 2773.0,797.8 2773.7,786.5 2775.0,763.3 2775.6,753.0 2778.2,767.8 2778.9,766.3 2780.8,757.6 2781.5,757.8 2783.4,771.4 2784.1,770.1 2786.0,751.1 2786.7,749.4 2787.3,755.2 2789.3,773.3 2789.9,774.3 2791.9,754.9 2792.5,749.7 2793.8,762.8 2794.5,769.1 2795.1,775.3 2795.8,775.8 2797.7,749.7 2798.4,742.0 2801.0,754.0 2801.6,756.1 2803.6,736.7 2804.2,733.5 2804.9,737.3 2805.5,741.3 2806.2,745.5 2806.8,749.9 2807.5,749.0 2808.1,744.2 2808.8,739.1 2810.1,728.4 2810.7,742.0 2811.4,760.0 2812.0,778.1 2812.7,789.1 2815.3,742.3 2815.9,739.1 2816.6,748.5 2817.2,757.4 2817.9,766.0 2818.5,774.1 2819.2,767.7 2820.5,738.4 2821.1,724.0 2821.8,733.5 2822.4,745.1 2823.0,756.9 2823.7,760.8 2824.3,753.5 2825.0,746.5 2826.3,733.0 2826.9,736.2 2828.9,755.8 2829.5,756.9 2832.8,727.6 2833.4,729.8 2834.7,737.9 2835.4,741.5 2838.6,727.1 2839.3,739.7 2840.6,767.2 2841.2,776.9 2841.9,762.2 2842.5,747.2 2843.2,732.2 2843.8,726.2 2845.1,742.3 2845.8,750.6 2846.4,759.0 2847.1,762.3 2847.7,752.1 2849.7,722.4 2850.3,729.9 2851.0,740.9 2851.6,751.8 2852.3,762.5 2852.9,765.1 2854.9,733.5 2855.5,723.4 2856.2,723.1 2858.1,757.0 2858.8,765.1 2860.7,729.5 2861.4,721.5 2863.3,771.1 2864.0,766.7 2865.9,734.2 2866.6,725.5 2869.2,794.1 2869.8,783.6 2871.8,747.3 2872.4,735.0 2873.1,734.2 2873.7,741.5 2874.4,748.6 2875.7,762.3 2876.3,758.5 2877.0,746.3 2877.6,734.2 2878.3,737.0 2878.9,746.8 2879.6,760.4 2880.9,814.9 2881.5,787.6 2882.2,769.7 2884.1,734.0 2884.8,729.3 2885.4,733.5 2886.1,737.9 2886.7,742.5 2887.4,745.8 2888.7,739.1 2889.3,737.7 2890.6,751.8 2891.3,758.5 2891.9,765.1 2892.6,771.5 2893.2,770.2 2893.9,764.0 2894.5,757.5 2895.2,750.8 2895.8,746.6 2897.1,760.7 2897.8,767.9 2898.4,768.0 2899.1,761.8 2901.7,735.3 2902.3,734.9 2903.6,734.7 2904.2,734.0 2906.2,731.0 2906.8,730.3 2907.5,734.0 2908.1,744.7 2908.8,755.6 2910.1,777.7 2910.7,770.6 2911.4,759.2 2912.0,747.6 2912.7,742.8 2913.3,749.1 2914.0,755.1 2914.6,761.0 2915.3,761.6 2917.9,729.0 2918.5,730.1 2920.5,760.0 2921.1,768.1 2923.7,723.6 2924.4,720.7 2925.0,727.5 2925.7,735.3 2926.3,743.3 2927.0,743.5 2928.3,735.8 2928.9,755.9 2930.2,813.1 2931.5,755.9 2932.2,733.2 2932.8,733.7 2933.5,731.6 2934.1,729.6 2934.8,727.8 2935.4,728.7 2936.1,731.8 2938.0,741.6 2938.7,742.8 2939.3,740.8 2940.0,738.5 2940.6,735.9 2941.3,744.6 2941.9,755.4 2942.6,765.9 2943.9,786.3 2944.5,792.7 2945.2,777.9 2945.8,763.4 2946.5,749.3 2947.1,744.0 2947.8,755.2 2948.4,774.3 2949.7,838.8 2951.0,774.3 2951.7,751.5 2952.3,745.3 2953.0,750.4 2955.6,769.7 2956.2,766.6 2956.9,757.0 2957.5,747.5 2958.2,748.6 2958.8,759.2 2960.1,779.3 2960.8,784.0 2963.4,745.7 2964.0,741.6 2964.7,746.0 2965.3,750.1 2966.0,754.0 2966.6,757.6 2967.3,757.1 2967.9,751.9 2968.6,747.0 2969.2,742.4 2969.9,738.0 2970.5,738.6 2972.5,754.0 2973.1,755.5 2973.8,749.4 2974.4,743.1 2975.1,736.6 2975.7,734.2 2977.0,737.3 2977.7,739.0 2978.3,741.0 2979.0,741.5 2980.9,733.4 2981.6,735.1 2982.2,739.4 2982.9,743.4 2984.2,751.0 2984.8,747.2 2986.1,731.7 2986.7,730.2 2987.4,734.9 2988.0,740.1 2988.7,745.5 2989.3,751.1 2990.0,755.4 2991.3,739.8 2991.9,733.5 2993.9,844.1 2995.2,770.4 2995.8,741.0 2996.5,737.0 2997.1,731.9 2997.8,726.9 2998.4,723.7 3001.0,778.8 3001.7,781.7 3003.6,739.5 3004.3,738.7 3006.9,770.5 3007.5,775.3 3009.5,723.0 3010.1,729.5 3012.7,762.6 3013.4,755.7 3014.0,743.9 3014.7,732.2 3015.3,724.0 3016.0,731.3 3017.3,746.4 3017.9,753.9 3018.6,751.0 3019.2,742.0 3019.9,732.8 3020.5,723.3 3021.2,725.4 3022.5,741.2 3023.1,749.3 3023.8,757.6 3024.4,756.9 3025.1,746.4 3026.4,725.7 3027.0,717.5 3027.7,723.8 3028.3,729.8 3029.6,741.5 3030.3,739.0 3032.2,721.3 3032.9,720.9 3035.5,744.9 3036.1,744.1 3038.1,714.0 3038.7,711.8 3040.7,730.4 3041.3,736.5 3042.0,734.0 3043.3,713.8 3043.9,704.1 3044.6,712.8 3045.2,722.2 3045.9,736.3 3047.2,792.7 3048.5,736.3 3049.1,712.2 3049.8,717.9 3050.4,731.8 3051.1,745.5 3051.7,758.7 3053.0,784.6 3053.7,765.2 3055.6,704.1 3056.3,705.6 3056.9,712.5 3057.6,719.7 3058.2,727.3 3058.9,722.7 3059.5,716.3 3060.8,703.8 3061.5,702.7 3062.1,709.3 3062.8,733.4 3064.1,796.3 3065.4,733.4 3066.0,708.4 3066.6,698.1 3067.3,698.1 3067.9,711.4 3068.6,725.0 3069.2,738.7 3069.9,734.9 3072.5,697.0 3073.1,689.4 3075.1,713.7 3075.7,735.6 3077.0,818.4 3079.0,694.2 3079.6,696.6 3080.9,701.9 3081.6,701.0 3082.2,695.6 3082.9,690.6 3083.5,685.8 3084.2,685.2 3084.8,693.6 3086.1,710.9 3086.8,716.8 3087.4,710.0 3088.1,703.0 3088.7,695.7 3089.4,688.7 3091.3,796.3 3092.6,724.6 3093.3,693.8 3093.9,688.8 3095.2,679.2 3095.9,679.4 3097.8,700.7 3098.5,702.4 3101.1,679.4 3101.7,676.3 3103.0,686.0 3103.7,688.6 3106.3,674.1 3106.9,670.7 3107.6,675.2 3109.5,781.2 3111.5,675.2 3112.1,670.6 3112.8,668.2 3113.4,678.6 3114.7,713.2 3115.4,716.5 3118.0,675.0 3118.6,665.6 3121.2,713.8 3121.9,716.0 3123.2,687.0 3123.8,704.9 3125.1,777.7 3125.8,741.3 3126.4,775.9 3127.7,703.7 3128.4,668.8 3129.7,661.6 3130.3,668.2 3132.3,721.0 3132.9,726.7 3133.6,710.4 3135.5,660.4 3136.2,673.2 3138.8,725.1 3139.4,710.7 3140.1,692.5 3140.7,674.6 3141.4,663.4 3143.3,704.6 3144.0,702.5 3145.9,662.4 3146.6,650.4 3149.8,666.6 3150.4,663.7 3151.7,657.4 3152.4,654.1 3153.0,651.2 3153.7,653.8 3154.3,656.1 3155.0,658.2 3155.6,657.8 3156.9,649.7 3157.6,645.8 3158.2,642.2 3158.9,639.9 3159.5,654.4 3160.2,669.2 3160.8,680.9 3161.5,673.0 3162.1,670.5 3162.8,685.6 3164.1,655.5 3164.7,653.5 3166.0,668.0 3166.7,673.0 3167.3,666.7 3169.9,640.2 3170.6,646.7 3171.2,653.7 3171.9,660.8 3172.5,668.1 3173.2,665.6 3175.1,641.2 3175.8,632.8 3176.4,644.5 3177.7,680.2 3178.4,692.0 3179.0,678.9 3179.7,666.1 3180.3,653.5 3181.0,641.0 3181.6,629.1 3183.6,704.2 3184.2,679.1 3184.9,703.3 3186.2,653.6 3186.8,632.9 3187.5,625.7 3188.1,634.7 3190.1,664.6 3190.7,657.7 3191.4,644.0 3192.0,630.5 3192.7,625.5 3195.9,672.8 3196.6,661.5 3197.2,646.3 3198.5,615.4 3199.2,626.6 3199.8,638.6 3200.5,650.7 3201.1,663.0 3201.8,673.7 3203.1,632.2 3203.7,614.0 3204.4,623.1 3205.0,632.0 3205.7,640.6 3206.3,649.0 3207.0,649.0 3208.9,618.7 3209.6,608.8 3210.2,608.0 3210.9,611.5 3211.5,615.2 3212.2,619.2 3212.8,623.4 3213.5,622.0 3215.4,605.3 3216.1,602.0 3216.7,611.5 3217.4,640.7 3218.7,712.1 3220.0,640.7 3220.6,610.9 3221.3,604.3 3221.9,614.0 3223.9,655.8 3224.5,646.0 3225.2,634.0 3225.8,622.2 3226.5,610.6 3227.1,599.3 3227.8,597.4 3229.0,627.6 3229.7,629.1 3230.3,622.5 3231.0,615.6 3231.6,608.5 3232.3,601.2 3232.9,622.7 3234.2,683.8 3234.9,653.2 3235.5,626.4 3236.2,620.7 3237.5,598.4 3238.1,594.7 3238.8,604.9 3240.7,634.9 3241.4,636.3 3242.0,622.6 3242.7,609.2 3243.3,596.0 3244.0,586.0 3246.6,632.8 3247.2,638.7 3247.9,618.1 3248.5,597.2 3249.2,576.2 3249.8,570.5 3251.1,577.8 3251.8,581.7 3252.4,582.8 3253.1,578.5 3255.0,566.5 3256.3,583.5 3257.0,591.8 3257.6,600.0 3258.3,601.5 3259.6,587.8 3260.2,581.3 3260.9,575.0 3261.5,568.9 3262.2,580.8 3264.1,622.4 3264.8,612.6 3265.4,601.8 3266.1,590.4 3266.7,578.4 3267.4,567.8 3269.3,607.4 3270.0,621.0 3270.6,628.0 3271.9,581.3 3272.6,562.4 3274.5,605.8 3275.2,620.0 3275.8,633.9 3276.5,618.4 3277.8,581.8 3278.4,563.9 3280.4,608.0 3281.0,616.6 3283.6,570.6 3284.3,558.8 3284.9,553.5 3285.6,559.5 3286.2,565.6 3287.5,604.1 3288.8,565.6 3289.5,546.9 3290.1,554.2 3290.8,561.6 3292.7,584.6 3293.4,581.9 3296.0,554.7 3296.6,560.3 3297.9,578.4 3298.6,585.6 3300.5,544.2 3301.2,542.2 3303.8,566.9 3304.4,573.4 3305.1,565.4 3305.7,563.5 3307.0,619.1 3307.7,591.3 3308.3,570.6 3309.0,586.6 3309.6,602.3 3310.2,600.5 3312.2,546.0 3312.8,539.4 3313.5,546.0 3314.1,552.8 3315.4,566.8 3316.1,572.0 3318.0,585.5 3318.7,589.6 3319.3,580.1 3320.0,604.1 3320.6,577.6 3321.3,551.5 3321.9,543.5 3324.5,516.2 3326.5,548.9 3327.1,544.5 3329.1,525.5 3329.7,522.8 3332.3,552.4 3333.0,545.2 3335.6,512.5 3336.2,516.7 3338.2,529.9 3338.8,531.7 3339.5,527.7 3341.4,516.2 3342.1,521.6 3342.7,538.6 3343.4,555.3 3344.0,555.4 3346.6,517.3 3347.3,512.2 3347.9,516.4 3348.6,520.9 3349.2,525.7 3349.9,530.7 3350.5,528.7 3351.2,522.2 3351.8,515.5 3352.5,511.7 3353.1,524.9 3355.1,563.9 3355.7,572.9 3356.4,597.9 3357.7,536.5 3358.3,518.1 3359.0,507.3 3360.9,561.7 3361.6,561.4 3363.5,510.9 3364.2,508.2 3366.8,531.3 3367.4,536.8 3368.1,530.4 3370.0,501.7 3370.7,504.3 3372.6,520.5 3373.3,515.2 3373.9,509.5 3374.6,504.1 3375.2,498.9 3375.9,507.3 3377.8,542.9 3378.5,542.5 3381.1,506.5 3381.7,510.2 3382.4,524.1 3383.0,538.2 3383.7,552.5 3384.3,547.6 3386.9,512.1 3387.6,504.1 3389.5,555.7 3390.2,555.8 3390.8,541.4 3391.4,526.8 3392.7,497.2 3393.4,503.9 3395.3,534.2 3396.0,535.9 3398.6,497.9 3399.2,498.0 3399.9,507.4 3400.5,517.1 3401.2,527.0 3401.8,536.6 3404.4,502.7 3405.1,503.9 3405.7,508.8 3406.4,513.3 3407.0,517.3 3407.7,512.0 3408.3,572.5 3409.6,707.7 3410.9,572.5 3411.6,519.1 3412.2,527.6 3412.9,532.4 3414.8,509.3 3415.5,501.3 3416.1,498.4 3418.1,541.9 3418.7,541.4 3421.3,496.4 3422.0,499.1 3424.6,526.3 3425.2,521.7 3427.2,498.8 3427.8,500.9 3429.8,549.6 3430.4,546.3 3431.1,529.7 3431.7,513.3 3432.4,497.2 3433.0,505.1 3435.6,555.1 3436.3,555.8 3436.9,534.4 3437.6,512.9 3438.2,502.1 3440.8,520.0 3441.5,521.6 3442.8,512.3 3443.4,507.8 3444.1,507.1 3446.7,546.2 3447.3,543.6 3449.3,515.8 3449.9,511.9 3452.5,547.2 3453.2,541.5 3454.5,525.2 3455.1,559.3 3456.4,653.7 3457.7,559.3 3458.4,544.6 3460.3,525.0 3461.0,518.3 3461.6,511.3 3462.3,518.4 3462.9,534.9 3463.6,551.3 3464.2,560.4 3466.2,515.8 3466.8,509.6 3467.5,517.4 3468.1,525.5 3468.8,534.1 3469.4,543.1 3470.1,549.5 3472.0,522.9 3472.6,517.6 3475.2,551.5 3475.9,559.6 3476.5,552.8 3477.2,567.7 3478.5,537.8 3479.1,529.8 3479.8,548.8 3481.1,586.5 3481.7,580.3 3482.4,564.6 3483.0,549.3 3483.7,534.5 3484.3,536.8 3485.6,562.5 3486.3,575.2 3486.9,587.6 3487.6,586.8 3488.2,572.4 3488.9,557.7 3490.2,527.8 3490.8,533.8 3491.5,543.4 3492.1,553.1 3492.8,557.9 3494.7,539.0 3495.4,535.7 3498.0,556.9 3498.6,559.9 3499.3,549.6 3500.6,529.6 3501.2,527.7 3501.9,530.5 3502.5,533.2 3503.8,538.0 3504.5,537.1 3506.4,530.1 3507.1,532.9 3507.7,541.1 3509.7,670.5 3511.0,584.2 3511.6,545.5 3512.3,540.7 3512.9,545.8 3513.6,554.4 3514.2,562.8 3514.9,571.0 3515.5,578.9 3516.2,579.0 3518.1,551.1 3518.8,550.2 3519.4,560.4 3520.1,570.9 3520.7,581.6 3521.4,583.9 3523.3,566.0 3524.0,559.8 3524.6,559.5 3526.6,591.9 3527.2,600.3 3527.9,589.5 3528.5,578.9 3529.2,568.5 3529.8,558.3 3530.5,565.2 3532.4,601.6 3533.1,605.4 3533.7,596.0 3534.4,586.3 3535.0,576.3 3535.7,565.9 3536.3,566.5 3537.6,572.7 3538.3,593.2 3539.6,655.4 3540.9,593.2 3541.5,570.5 3542.2,580.7 3542.8,600.7 3543.5,620.3 3544.1,639.6 3544.8,631.2 3545.4,615.7 3546.1,599.8 3547.4,567.7 3548.0,581.2 3548.7,596.4 3549.3,611.8 3550.0,627.4 3550.6,623.7 3552.6,578.5 3553.2,588.2 3555.1,639.4 3555.8,651.9 3557.7,598.8 3558.4,582.8 3561.0,639.2 3561.6,638.4 3562.3,677.4 3562.9,720.1 3564.2,634.7 3564.9,606.4 3566.2,628.0 3566.8,639.0 3567.5,631.1 3568.1,620.8 3569.4,600.4 3570.1,600.4 3572.7,630.1 3573.3,625.2 3574.0,618.2 3574.6,611.4 3575.3,604.8 3575.9,605.2 3577.9,649.5 3578.5,645.2 3579.2,634.8 3580.5,613.7 3581.1,603.4 3581.8,602.3 3582.4,612.3 3584.4,642.8 3585.0,638.2 3585.7,630.7 3586.3,623.0 3587.0,615.1 3587.6,622.1 3588.9,648.1 3589.6,667.2 3590.2,694.4 3591.5,639.9 3592.2,625.6 3592.8,615.3 3595.4,657.5 3596.1,660.6 3598.0,629.4 3598.7,625.0 3601.3,658.6 3601.9,654.7 3602.6,644.1 3603.9,622.7 3604.5,633.6 3605.8,656.0 3606.5,678.7 3607.1,703.3 3607.8,678.7 3608.4,659.4 3609.7,639.2 3610.4,636.8 3612.3,675.1 3613.0,685.0 3614.9,654.0 3615.6,644.1 3617.5,671.5 3618.2,678.2 3618.8,672.0 3619.5,691.4 3620.1,712.1 3621.4,670.7 3622.1,656.0 3624.0,676.9 3624.7,675.9 3626.0,664.8 3626.6,659.4 3627.3,672.4 3627.9,685.3 3628.6,697.9 3629.2,710.2 3629.9,722.3 3630.5,719.3 3631.2,699.1 3631.8,679.1 3632.5,661.3 3633.1,669.2 3633.8,677.4 3634.4,685.9"/>
</g>
<rect x="2335.2" y="104.5" width="1299.2" height="1062.9" fill="none" stroke="#0a0a0a" stroke-width="4.6"/>
<path d="M2465.1 1167.4v-16.5M2725.0 1167.4v-16.5M2984.8 1167.4v-16.5M3244.6 1167.4v-16.5M3504.5 1167.4v-16.5M2335.2 281.6h16.5M2335.2 458.8h16.5M2335.2 636.0h16.5M2335.2 813.1h16.5M2335.2 990.2h16.5" stroke="#0a0a0a" stroke-width="4.4" fill="none"/>
<text x="2466.1" y="1239.8" text-anchor="middle" word-spacing="-2">1 060</text>
<text x="2726.0" y="1239.8" text-anchor="middle" word-spacing="-2">1 080</text>
<text x="2985.8" y="1239.8" text-anchor="middle" word-spacing="-2">1 100</text>
<text x="3245.6" y="1239.8" text-anchor="middle" word-spacing="-2">1 120</text>
<text x="3505.5" y="1239.8" text-anchor="middle" word-spacing="-2">1 140</text>
<text x="2312.4" y="121.9" text-anchor="end">0</text>
<text x="2312.4" y="299.0" text-anchor="end">20</text>
<rect x="2207.6" y="275.2" width="35.5" height="3.7"/>
<text x="2312.4" y="476.2" text-anchor="end">40</text>
<rect x="2207.6" y="452.3" width="35.5" height="3.7"/>
<text x="2312.4" y="653.4" text-anchor="end">60</text>
<rect x="2207.6" y="629.5" width="35.5" height="3.7"/>
<text x="2312.4" y="830.5" text-anchor="end">80</text>
<rect x="2207.6" y="806.6" width="35.5" height="3.7"/>
<text x="2312.4" y="1007.6" text-anchor="end">100</text>
<rect x="2174.1" y="983.8" width="35.5" height="3.7"/>
<text x="2312.4" y="1184.8" text-anchor="end">120</text>
<rect x="2174.1" y="1161.0" width="35.5" height="3.7"/>
<line x1="367.7" y1="163.0" x2="472.8" y2="163.0" stroke="#a3f3cf" stroke-width="10" stroke-linecap="round"/>
<text x="502.4" y="181.5">0.80</text>
<line x1="367.7" y1="244.2" x2="472.8" y2="244.2" stroke="#0a22c4" stroke-width="10" stroke-linecap="round"/>
<text x="502.4" y="263.5">0.60</text>
<line x1="367.7" y1="326.8" x2="472.8" y2="326.8" stroke="#f0180c" stroke-width="10" stroke-linecap="round"/>
<text x="502.4" y="345.4">0.40</text>
<line x1="367.7" y1="409.0" x2="472.8" y2="409.0" stroke="#0b0b0b" stroke-width="10" stroke-linecap="round"/>
<text x="502.4" y="428.1">0.20</text>
<rect x="2383" y="154.9" width="114.5" height="10.2" rx="3" fill="#429368"/>
<text x="2522.4" y="182.1">30%</text>
<rect x="2383" y="236.1" width="114.5" height="10.2" rx="3" fill="#ea22e6"/>
<text x="2522.4" y="261.0">5%</text>
<text x="966.5" y="54.6" text-anchor="middle">output from active fiber</text>
<text x="968.3" y="1317.6" text-anchor="middle" font-size="66.5">wavelength/nm</text>
<text x="2985.3" y="54.6" text-anchor="middle">output from active fiber</text>
<text x="2987.1" y="1317.6" text-anchor="middle" font-size="66.5">wavelength/nm</text>
<text x="967.0" y="1411.5" text-anchor="middle">(a) output spectra under different length ratios</text>
<text x="2982.3" y="1411.5" text-anchor="middle" font-size="66.6">(b) output spectra under different OCFBG reflectivities</text>
<text transform="translate(114.4,635.5) rotate(-90)" text-anchor="middle" font-size="66.2">intensity/dBm</text>
<text transform="translate(2148,635.5) rotate(-90)" text-anchor="middle" font-size="66.2">intensity/dBm</text>
</svg>
</body></html>
